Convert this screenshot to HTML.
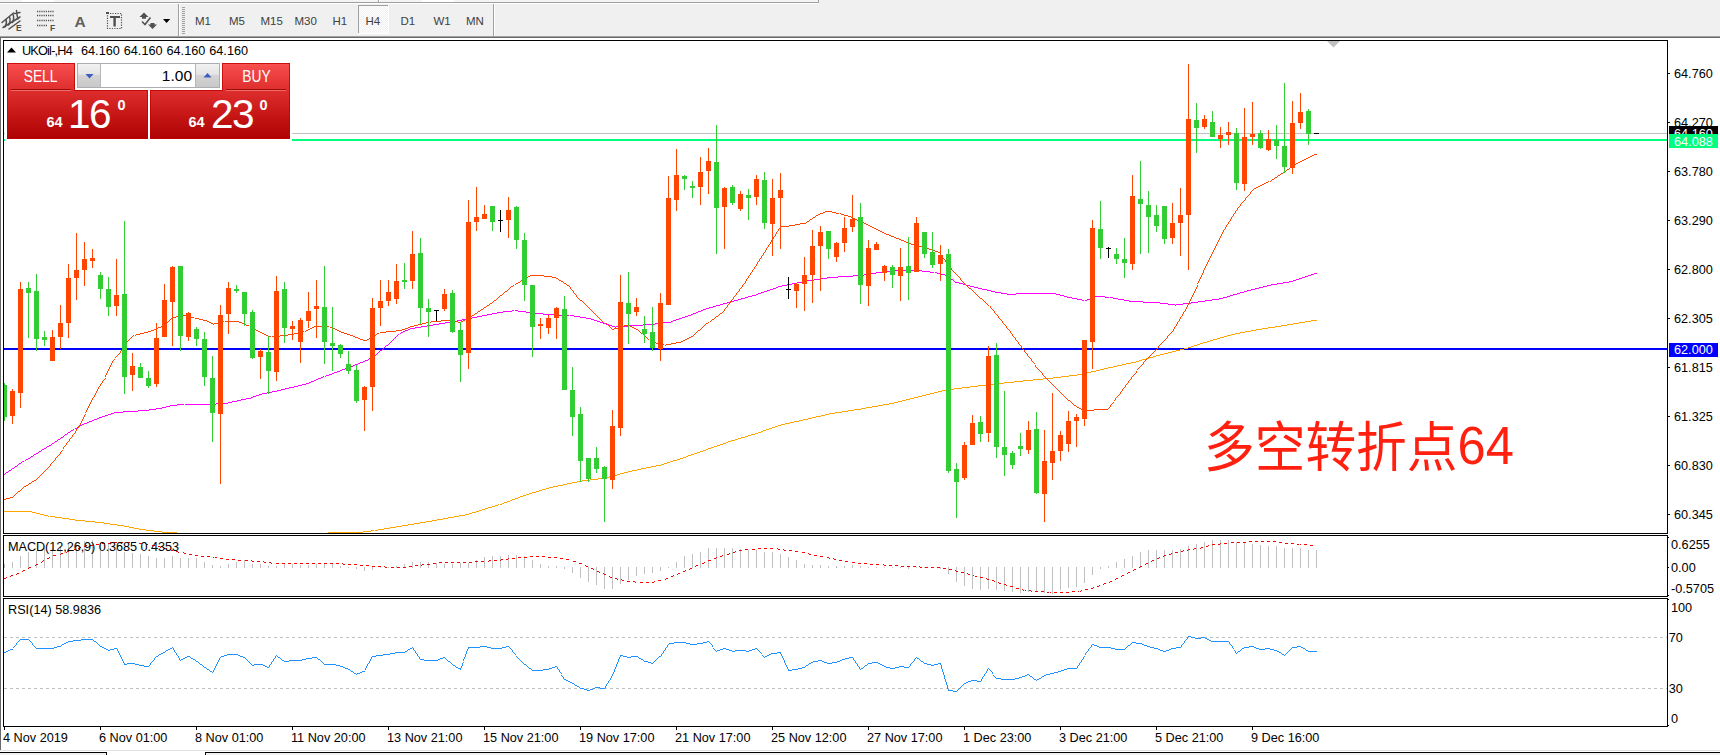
<!DOCTYPE html>
<html><head><meta charset="utf-8"><title>UKOil-,H4</title>
<style>
html,body{margin:0;padding:0;background:#fff;}
body{width:1720px;height:755px;position:relative;overflow:hidden;font-family:"Liberation Sans","Noto Sans CJK SC",sans-serif;color:#000;}
#tb{position:absolute;left:0;top:0;width:1720px;height:36px;background:#f0f0f0;}
.ax{position:absolute;font-size:12.7px;line-height:14px;white-space:nowrap;color:#000;}
.tf{position:absolute;top:14px;font-size:11.5px;line-height:14px;color:#404040;white-space:nowrap;}
svg{position:absolute;left:0;top:0;}
.abs{position:absolute;}
</style></head><body>
<div id="tb"></div>
<svg width="1720" height="755" viewBox="0 0 1720 755" shape-rendering="crispEdges">
<rect x="0" y="0" width="819" height="2" fill="#f4f4f4"/>
<rect x="22" y="0" width="32" height="2" fill="#fff"/>
<rect x="422" y="0" width="32" height="2" fill="#fff"/>
<rect x="0" y="2" width="819" height="1" fill="#a0a0a0"/>
<rect x="0" y="3" width="819" height="1" fill="#fff"/>
<rect x="818" y="0" width="1" height="3" fill="#a0a0a0"/>
<rect x="378" y="0" width="1" height="2" fill="#a0a0a0"/>
<rect x="379" y="0" width="1" height="2" fill="#fff"/>
<rect x="0" y="36" width="1720" height="1" fill="#a0a0a0"/>
<rect x="0" y="37" width="1720" height="1" fill="#696969"/>
<rect x="0" y="38" width="1" height="712" fill="#696969"/>
<rect x="0" y="750" width="1720" height="1" fill="#e3e3e3"/>
<rect x="0" y="752" width="107" height="1" fill="#000"/>
<rect x="0" y="753" width="106" height="2" fill="#f0f0f0"/>
<rect x="106" y="752" width="1" height="3" fill="#000"/>
<rect x="205" y="752" width="1515" height="1" fill="#000"/>
<rect x="205" y="752" width="1" height="3" fill="#000"/>
<rect x="206" y="753" width="1514" height="2" fill="#f0f0f0"/>
<rect x="178" y="4" width="1" height="32" fill="#a0a0a0"/><rect x="179" y="4" width="1" height="32" fill="#fff"/>
<rect x="493" y="4" width="1" height="32" fill="#a0a0a0"/><rect x="494" y="4" width="1" height="32" fill="#fff"/>
<rect x="182" y="7" width="3" height="1" fill="#a0a0a0"/>
<rect x="182" y="9" width="3" height="1" fill="#a0a0a0"/>
<rect x="182" y="11" width="3" height="1" fill="#a0a0a0"/>
<rect x="182" y="13" width="3" height="1" fill="#a0a0a0"/>
<rect x="182" y="15" width="3" height="1" fill="#a0a0a0"/>
<rect x="182" y="17" width="3" height="1" fill="#a0a0a0"/>
<rect x="182" y="19" width="3" height="1" fill="#a0a0a0"/>
<rect x="182" y="21" width="3" height="1" fill="#a0a0a0"/>
<rect x="182" y="23" width="3" height="1" fill="#a0a0a0"/>
<rect x="182" y="25" width="3" height="1" fill="#a0a0a0"/>
<rect x="182" y="27" width="3" height="1" fill="#a0a0a0"/>
<rect x="182" y="29" width="3" height="1" fill="#a0a0a0"/>
<rect x="182" y="31" width="3" height="1" fill="#a0a0a0"/>
<rect x="182" y="33" width="3" height="1" fill="#a0a0a0"/>
<defs><pattern id="chk" width="2" height="2" patternUnits="userSpaceOnUse"><rect width="2" height="2" fill="#f0f0f0"/><rect width="1" height="1" fill="#fff"/><rect x="1" y="1" width="1" height="1" fill="#fff"/></pattern></defs>
<rect x="358" y="5" width="31" height="29" fill="url(#chk)"/>
<rect x="358" y="5" width="31" height="1" fill="#a0a0a0"/><rect x="358" y="5" width="1" height="29" fill="#a0a0a0"/>
<rect x="358" y="33" width="31" height="1" fill="#fff"/><rect x="388" y="5" width="1" height="29" fill="#fff"/>
</svg>
<svg width="200" height="36" viewBox="0 0 200 36" style="position:absolute;left:0;top:0">
<g stroke="#505050" stroke-width="1.5" fill="none" stroke-linecap="round"><path d="M2 22.5 L13.5 13"/><path d="M3 27.5 L20 17"/><path d="M9 29 L20 21"/><path d="M6 19.5 q1.2 3.5 -1 7.5 M9.5 17 q1.5 3.5 -0.8 8 M13 14.5 q1.6 3.5 -0.5 8 M16.5 10.5 q0.2 4 1.5 8.5 M14.5 13.5 L20 12.5"/></g>
<text x="16" y="31" font-family="Liberation Sans,sans-serif" font-size="8.5" font-weight="bold" fill="#505050">E</text>
<line x1="37" y1="11.5" x2="54" y2="11.5" stroke="#505050" stroke-width="1.4" stroke-dasharray="1.2 1"/>
<line x1="37" y1="15.5" x2="54" y2="15.5" stroke="#505050" stroke-width="1.4" stroke-dasharray="1.2 1"/>
<line x1="37" y1="20.5" x2="54" y2="20.5" stroke="#505050" stroke-width="1.4" stroke-dasharray="1.2 1"/>
<line x1="37" y1="25.5" x2="48" y2="25.5" stroke="#505050" stroke-width="1.4" stroke-dasharray="1.2 1"/>
<text x="50" y="31" font-family="Liberation Sans,sans-serif" font-size="8.5" font-weight="bold" fill="#505050">F</text>
<text x="74.5" y="27" font-family="Liberation Sans,sans-serif" font-size="15.5" font-weight="bold" fill="#606060">A</text>
<rect x="107.5" y="13.5" width="14" height="15" fill="none" stroke="#505050" stroke-width="1.2" stroke-dasharray="1.2 1.3"/>
<rect x="110" y="16" width="10" height="2" fill="#505050"/><rect x="113.4" y="16" width="2.4" height="10.5" fill="#505050"/>
<rect x="106" y="12" width="3" height="2" fill="#505050"/>
<polygon points="144,12.5 148.5,17 146,17 146,18.8 142,18.8 142,17 139.5,17" fill="#505050"/>
<polygon points="152.5,29 157,24.5 154.5,24.5 154.5,23 150.5,23 150.5,24.5 148,24.5" fill="#505050"/>
<path d="M142 21.5 L145 24.5 L150.5 17.5" stroke="#505050" stroke-width="1.5" fill="none"/>
<polygon points="163,19 170.2,19 166.6,23" fill="#000"/>
</svg>
<div class="tf" style="left:195px">M1</div>
<div class="tf" style="left:229px">M5</div>
<div class="tf" style="left:260.5px">M15</div>
<div class="tf" style="left:294.5px">M30</div>
<div class="tf" style="left:332.5px">H1</div>
<div class="tf" style="left:365.5px">H4</div>
<div class="tf" style="left:400.5px">D1</div>
<div class="tf" style="left:433.5px">W1</div>
<div class="tf" style="left:466px">MN</div>
<svg width="1720" height="755" viewBox="0 0 1720 755">
<defs><clipPath id="cm"><rect x="4" y="41" width="1663" height="492"/></clipPath><clipPath id="cd"><rect x="4" y="536" width="1663" height="60"/></clipPath><clipPath id="cr"><rect x="4" y="599" width="1663" height="127"/></clipPath><linearGradient id="pg" x1="0" y1="0" x2="0" y2="1"><stop offset="0" stop-color="#f84c4c"/><stop offset="0.35" stop-color="#de2c2c"/><stop offset="1" stop-color="#b00404"/></linearGradient></defs>
<g shape-rendering="crispEdges">
<rect x="3" y="40" width="1665" height="1" fill="#000"/>
<rect x="3" y="533" width="1665" height="1" fill="#000"/>
<rect x="3" y="40" width="1" height="494" fill="#000"/>
<rect x="1667" y="40" width="1" height="494" fill="#000"/>
<rect x="3" y="535" width="1665" height="1" fill="#000"/>
<rect x="3" y="596" width="1665" height="1" fill="#000"/>
<rect x="3" y="535" width="1" height="62" fill="#000"/>
<rect x="1667" y="535" width="1" height="62" fill="#000"/>
<rect x="3" y="598" width="1665" height="1" fill="#000"/>
<rect x="3" y="726" width="1665" height="1" fill="#000"/>
<rect x="3" y="598" width="1" height="129" fill="#000"/>
<rect x="1667" y="598" width="1" height="129" fill="#000"/>
<rect x="1668" y="73" width="2" height="1" fill="#000"/>
<rect x="1668" y="122" width="2" height="1" fill="#000"/>
<rect x="1668" y="171" width="2" height="1" fill="#000"/>
<rect x="1668" y="220" width="2" height="1" fill="#000"/>
<rect x="1668" y="269" width="2" height="1" fill="#000"/>
<rect x="1668" y="318" width="2" height="1" fill="#000"/>
<rect x="1668" y="367" width="2" height="1" fill="#000"/>
<rect x="1668" y="416" width="2" height="1" fill="#000"/>
<rect x="1668" y="465" width="2" height="1" fill="#000"/>
<rect x="1668" y="514" width="2" height="1" fill="#000"/>
<rect x="1668" y="537" width="1" height="1" fill="#000"/>
<rect x="1668" y="567" width="1" height="1" fill="#000"/>
<rect x="1668" y="595" width="1" height="1" fill="#000"/>
<rect x="1668" y="599" width="1" height="1" fill="#000"/>
<rect x="1668" y="725" width="1" height="1" fill="#000"/>
<rect x="4" y="727" width="1" height="3" fill="#000"/>
<rect x="100" y="727" width="1" height="3" fill="#000"/>
<rect x="196" y="727" width="1" height="3" fill="#000"/>
<rect x="292" y="727" width="1" height="3" fill="#000"/>
<rect x="388" y="727" width="1" height="3" fill="#000"/>
<rect x="484" y="727" width="1" height="3" fill="#000"/>
<rect x="580" y="727" width="1" height="3" fill="#000"/>
<rect x="676" y="727" width="1" height="3" fill="#000"/>
<rect x="772" y="727" width="1" height="3" fill="#000"/>
<rect x="868" y="727" width="1" height="3" fill="#000"/>
<rect x="964" y="727" width="1" height="3" fill="#000"/>
<rect x="1060" y="727" width="1" height="3" fill="#000"/>
<rect x="1156" y="727" width="1" height="3" fill="#000"/>
<rect x="1252" y="727" width="1" height="3" fill="#000"/>
<g clip-path="url(#cm)">
<rect x="4" y="133" width="1663" height="1" fill="#c0c0c0"/>
<rect x="4" y="139" width="1663" height="2" fill="#00ff7f"/>
<rect x="4" y="348" width="1663" height="2" fill="#0000ff"/>
</g>
<polygon points="1327,41 1340,41 1333.5,47.5" fill="#c0c0c0" shape-rendering="auto"/>
</g>
<g clip-path="url(#cm)" shape-rendering="crispEdges">
<path d="M632 470h5v1h-5zM188 534h10v1h-10zM306 534h11v1h-11zM1311 320h6v1h-6zM229 538h10v1h-10zM262 538h11v1h-11zM995 383h9v1h-9zM1176 350h4v1h-4zM104 523h6v1h-6zM414 523h6v1h-6zM488 507h4v1h-4zM239 539h10v1h-10zM251 539h11v1h-11zM918 396h4v1h-4zM162 532h15v1h-15zM328 532h35v1h-35zM620 473h4v1h-4zM842 411h6v1h-6zM546 488h3v1h-3zM198 535h10v1h-10zM295 535h11v1h-11zM646 467h5v1h-5zM1299 322h6v1h-6zM878 405h5v1h-5zM711 447h3v1h-3zM1164 353h4v1h-4zM479 510h3v1h-3zM177 533h11v1h-11zM317 533h11v1h-11zM609 476h4v1h-4zM117 525h7v1h-7zM402 525h6v1h-6zM208 536h11v1h-11zM284 536h11v1h-11zM32 512h4v1h-4zM472 512h4v1h-4zM146 530h8v1h-8zM371 530h3v1h-3zM375 530h3v1h-3zM1014 381h9v1h-9zM536 491h3v1h-3zM69 519h6v1h-6zM437 519h6v1h-6zM906 399h4v1h-4zM1153 356h3v1h-3zM700 451h3v1h-3zM590 479h8v1h-8zM85 521h10v1h-10zM426 521h6v1h-6zM4 511h28v1h-28zM476 511h3v1h-3zM1117 365h5v1h-5zM962 387h8v1h-8zM861 408h5v1h-5zM758 432h3v1h-3zM661 464h3v1h-3zM894 402h4v1h-4zM1142 359h4v1h-4zM219 537h10v1h-10zM273 537h11v1h-11zM1077 374h6v1h-6zM50 516h5v1h-5zM454 516h5v1h-5zM520 496h3v1h-3zM1069 375h8v1h-8zM745 436h3v1h-3zM154 531h8v1h-8zM363 531h8v1h-8zM1023 380h10v1h-10zM1262 328h6v1h-6zM703 450h3v1h-3zM735 439h3v1h-3zM36 513h4v1h-4zM469 513h3v1h-3zM970 386h8v1h-8zM1083 373h4v1h-4zM139 529h7v1h-7zM378 529h6v1h-6zM1245 331h6v1h-6zM825 414h4v1h-4zM75 520h10v1h-10zM432 520h5v1h-5zM691 454h3v1h-3zM1210 340h3v1h-3zM1275 326h6v1h-6zM748 435h3v1h-3zM986 384h9v1h-9zM1200 343h3v1h-3zM680 458h3v1h-3zM803 419h5v1h-5zM95 522h9v1h-9zM420 522h6v1h-6zM829 413h6v1h-6zM1188 347h3v1h-3zM1043 378h10v1h-10zM726 442h2v1h-2zM134 528h5v1h-5zM384 528h6v1h-6zM790 422h4v1h-4zM816 416h5v1h-5zM720 444h3v1h-3zM848 410h6v1h-6zM778 425h3v1h-3zM683 457h3v1h-3zM577 481h5v1h-5zM110 524h7v1h-7zM408 524h6v1h-6zM677 459h3v1h-3zM572 482h5v1h-5zM641 468h5v1h-5zM766 429h3v1h-3zM1191 346h3v1h-3zM1053 377h8v1h-8zM502 503h2v1h-2zM667 462h3v1h-3zM866 407h6v1h-6zM529 493h3v1h-3zM1004 382h10v1h-10zM723 443h3v1h-3zM628 471h4v1h-4zM854 409h7v1h-7zM926 394h4v1h-4zM485 508h3v1h-3zM954 388h8v1h-8zM542 489h4v1h-4zM55 517h7v1h-7zM448 517h6v1h-6zM914 397h4v1h-4zM769 428h3v1h-3zM532 492h4v1h-4zM902 400h4v1h-4zM44 515h4v1h-4zM459 515h6v1h-6zM598 478h8v1h-8zM656 465h5v1h-5zM889 403h5v1h-5zM1240 332h5v1h-5zM1104 368h4v1h-4zM741 437h4v1h-4zM62 518h7v1h-7zM443 518h5v1h-5zM510 500h2v1h-2zM1091 371h5v1h-5zM1131 362h5v1h-5zM606 477h3v1h-3zM978 385h8v1h-8zM731 440h4v1h-4zM40 514h4v1h-4zM465 514h4v1h-4zM755 433h3v1h-3zM1281 325h6v1h-6zM124 526h5v1h-5zM396 526h6v1h-6zM1033 379h10v1h-10zM512 499h3v1h-3zM835 412h7v1h-7zM1287 324h6v1h-6zM495 505h3v1h-3zM553 486h5v1h-5zM938 391h4v1h-4zM763 430h3v1h-3zM567 483h5v1h-5zM1180 349h4v1h-4zM617 474h3v1h-3zM1061 376h8v1h-8zM697 452h3v1h-3zM1139 360h3v1h-3zM1235 333h5v1h-5zM1126 363h5v1h-5zM1256 329h6v1h-6zM1224 336h3v1h-3zM1213 339h4v1h-4zM688 455h3v1h-3zM1268 327h7v1h-7zM812 417h4v1h-4zM507 501h3v1h-3zM1293 323h6v1h-6zM799 420h4v1h-4zM1184 348h4v1h-4zM129 527h5v1h-5zM390 527h6v1h-6zM785 423h5v1h-5zM500 504h2v1h-2zM1172 351h4v1h-4zM775 426h3v1h-3zM708 448h3v1h-3zM563 484h4v1h-4zM934 392h4v1h-4zM1149 357h4v1h-4zM664 463h3v1h-3zM651 466h5v1h-5zM1100 369h4v1h-4zM613 475h4v1h-4zM1087 372h4v1h-4zM1217 338h3v1h-3zM1113 366h4v1h-4zM930 393h4v1h-4zM518 497h2v1h-2zM1207 341h3v1h-3zM1231 334h4v1h-4zM728 441h3v1h-3zM686 456h2v1h-2zM1197 344h3v1h-3zM504 502h3v1h-3zM549 487h4v1h-4zM922 395h4v1h-4zM539 490h3v1h-3zM910 398h4v1h-4zM946 389h8v1h-8zM637 469h4v1h-4zM761 431h2v1h-2zM624 472h4v1h-4zM883 404h6v1h-6zM694 453h3v1h-3zM751 434h4v1h-4zM1220 337h4v1h-4zM821 415h4v1h-4zM781 424h4v1h-4zM808 418h4v1h-4zM673 460h4v1h-4zM582 480h8v1h-8zM1305 321h6v1h-6zM482 509h3v1h-3zM772 427h3v1h-3zM872 406h6v1h-6zM1146 358h3v1h-3zM523 495h3v1h-3zM1108 367h5v1h-5zM717 445h3v1h-3zM1136 361h3v1h-3zM1096 370h4v1h-4zM1160 354h4v1h-4zM1122 364h4v1h-4zM1251 330h5v1h-5zM515 498h3v1h-3zM558 485h5v1h-5zM942 390h4v1h-4zM1194 345h3v1h-3zM794 421h5v1h-5zM670 461h3v1h-3zM706 449h2v1h-2zM492 506h3v1h-3zM1227 335h4v1h-4zM898 401h4v1h-4zM526 494h3v1h-3zM1203 342h4v1h-4zM738 438h3v1h-3zM1168 352h4v1h-4zM714 446h3v1h-3zM1156 355h4v1h-4zM250 540h1v1h-1zM48 516h1v1h-1zM498 504h1v1h-1z" fill="#ffa500"/>
<path d="M427 325h6v1h-6zM609 325h3v1h-3zM628 325h15v1h-15zM177 404h7v1h-7zM185 404h31v1h-31zM864 274h6v1h-6zM941 274h4v1h-4zM1311 274h3v1h-3zM778 286h4v1h-4zM970 286h4v1h-4zM1263 286h4v1h-4zM761 292h3v1h-3zM995 292h6v1h-6zM1240 292h4v1h-4zM492 313h5v1h-5zM535 313h8v1h-8zM693 313h3v1h-3zM232 401h5v1h-5zM827 277h11v1h-11zM948 277h2v1h-2zM1302 277h3v1h-3zM408 329h2v1h-2zM82 424h2v1h-2zM758 293h3v1h-3zM1001 293h6v1h-6zM1016 293h40v1h-40zM1237 293h3v1h-3zM439 323h6v1h-6zM603 323h3v1h-3zM655 323h8v1h-8zM403 331h2v1h-2zM421 326h6v1h-6zM612 326h3v1h-3zM616 326h12v1h-12zM138 410h11v1h-11zM727 302h4v1h-4zM1143 302h17v1h-17zM1191 302h7v1h-7zM802 281h5v1h-5zM1289 281h4v1h-4zM731 301h3v1h-3zM1129 301h14v1h-14zM1198 301h7v1h-7zM770 289h3v1h-3zM982 289h5v1h-5zM1251 289h4v1h-4zM884 271h9v1h-9zM922 271h8v1h-8zM467 318h5v1h-5zM586 318h5v1h-5zM679 318h3v1h-3zM720 304h3v1h-3zM1168 304h7v1h-7zM1176 304h7v1h-7zM462 319h5v1h-5zM591 319h3v1h-3zM676 319h3v1h-3zM65 434h2v1h-2zM838 276h15v1h-15zM1305 276h3v1h-3zM457 320h5v1h-5zM594 320h3v1h-3zM673 320h3v1h-3zM162 407h4v1h-4zM792 283h5v1h-5zM959 283h4v1h-4zM1277 283h6v1h-6zM748 296h4v1h-4zM1064 296h3v1h-3zM1095 296h10v1h-10zM1227 296h3v1h-3zM114 412h9v1h-9zM445 322h6v1h-6zM600 322h3v1h-3zM663 322h8v1h-8zM477 316h5v1h-5zM574 316h6v1h-6zM685 316h3v1h-3zM787 284h5v1h-5zM963 284h3v1h-3zM1271 284h6v1h-6zM482 315h5v1h-5zM558 315h11v1h-11zM570 315h4v1h-4zM688 315h3v1h-3zM752 295h4v1h-4zM1060 295h4v1h-4zM1230 295h3v1h-3zM472 317h5v1h-5zM580 317h6v1h-6zM682 317h3v1h-3zM893 270h29v1h-29zM285 388h4v1h-4zM348 367h3v1h-3zM741 298h4v1h-4zM1072 298h5v1h-5zM1090 298h3v1h-3zM1113 298h5v1h-5zM1219 298h4v1h-4zM123 411h15v1h-15zM745 297h3v1h-3zM1067 297h5v1h-5zM1093 297h2v1h-2zM1105 297h4v1h-4zM1110 297h3v1h-3zM1223 297h4v1h-4zM6 472h2v1h-2zM782 285h5v1h-5zM966 285h4v1h-4zM1267 285h4v1h-4zM503 311h9v1h-9zM518 311h8v1h-8zM698 311h3v1h-3zM31 456h2v1h-2zM415 327h6v1h-6zM433 324h6v1h-6zM606 324h3v1h-3zM643 324h12v1h-12zM487 314h5v1h-5zM543 314h15v1h-15zM691 314h2v1h-2zM756 294h2v1h-2zM1007 294h9v1h-9zM1056 294h4v1h-4zM1233 294h4v1h-4zM256 395h3v1h-3zM713 306h3v1h-3zM216 403h12v1h-12zM281 389h4v1h-4zM764 291h3v1h-3zM991 291h4v1h-4zM1244 291h3v1h-3zM94 419h3v1h-3zM738 299h3v1h-3zM1077 299h5v1h-5zM1087 299h3v1h-3zM1118 299h6v1h-6zM1212 299h7v1h-7zM703 309h3v1h-3zM365 360h3v1h-3zM15 466h2v1h-2zM267 392h5v1h-5zM334 372h3v1h-3zM797 282h5v1h-5zM955 282h4v1h-4zM1283 282h6v1h-6zM410 328h5v1h-5zM821 278h6v1h-6zM1299 278h3v1h-3zM289 387h5v1h-5zM773 288h3v1h-3zM978 288h4v1h-4zM1255 288h4v1h-4zM241 399h5v1h-5zM876 272h8v1h-8zM930 272h4v1h-4zM935 272h2v1h-2zM870 273h6v1h-6zM937 273h4v1h-4zM1314 273h3v1h-3zM156 408h6v1h-6zM358 363h2v1h-2zM326 375h3v1h-3zM723 303h4v1h-4zM1160 303h8v1h-8zM1183 303h8v1h-8zM170 405h7v1h-7zM316 379h2v1h-2zM342 369h3v1h-3zM311 381h3v1h-3zM767 290h3v1h-3zM987 290h4v1h-4zM1247 290h4v1h-4zM451 321h6v1h-6zM597 321h3v1h-3zM671 321h2v1h-2zM262 393h5v1h-5zM105 415h3v1h-3zM345 368h3v1h-3zM314 380h2v1h-2zM71 430h2v1h-2zM277 390h4v1h-4zM302 384h4v1h-4zM853 275h11v1h-11zM945 275h2v1h-2zM1308 275h3v1h-3zM253 396h3v1h-3zM807 280h7v1h-7zM1293 280h3v1h-3zM92 420h2v1h-2zM363 361h2v1h-2zM228 402h4v1h-4zM55 441h2v1h-2zM111 413h3v1h-3zM405 330h3v1h-3zM80 425h2v1h-2zM776 287h2v1h-2zM974 287h4v1h-4zM1259 287h4v1h-4zM401 332h2v1h-2zM22 461h2v1h-2zM39 451h2v1h-2zM102 416h3v1h-3zM497 312h6v1h-6zM526 312h9v1h-9zM696 312h2v1h-2zM716 305h4v1h-4zM709 307h4v1h-4zM246 398h5v1h-5zM332 373h2v1h-2zM89 421h3v1h-3zM12 468h2v1h-2zM58 439h2v1h-2zM814 279h7v1h-7zM951 279h2v1h-2zM1296 279h3v1h-3zM321 377h2v1h-2zM149 409h7v1h-7zM355 364h3v1h-3zM351 366h2v1h-2zM370 357h2v1h-2zM166 406h4v1h-4zM36 453h2v1h-2zM61 437h2v1h-2zM298 385h4v1h-4zM734 300h4v1h-4zM1082 300h2v1h-2zM1085 300h2v1h-2zM1124 300h5v1h-5zM1205 300h7v1h-7zM272 391h5v1h-5zM512 310h2v1h-2zM515 310h3v1h-3zM701 310h2v1h-2zM380 350h2v1h-2zM99 417h3v1h-3zM47 446h2v1h-2zM237 400h4v1h-4zM318 378h3v1h-3zM108 414h3v1h-3zM19 463h2v1h-2zM251 397h2v1h-2zM44 448h2v1h-2zM68 432h2v1h-2zM360 362h3v1h-3zM329 374h3v1h-3zM28 458h2v1h-2zM78 426h2v1h-2zM353 365h2v1h-2zM337 371h3v1h-3zM306 383h3v1h-3zM34 454h2v1h-2zM294 386h4v1h-4zM340 370h2v1h-2zM87 422h2v1h-2zM386 345h2v1h-2zM9 470h2v1h-2zM75 428h2v1h-2zM97 418h2v1h-2zM309 382h2v1h-2zM259 394h3v1h-3zM26 459h2v1h-2zM52 443h2v1h-2zM42 449h2v1h-2zM84 423h3v1h-3zM49 445h2v1h-2zM706 308h3v1h-3zM375 355h1v1h-1zM64 435h1v1h-1zM947 276h1v1h-1zM11 469h1v1h-1zM372 356h1v1h-1zM615 327h1v1h-1zM392 340h1v1h-1zM393 339h1v1h-1zM954 281h1v1h-1zM14 467h1v1h-1zM30 457h1v1h-1zM46 447h1v1h-1zM391 341h1v1h-1zM63 436h1v1h-1zM5 473h1v1h-1zM38 452h1v1h-1zM54 442h1v1h-1zM67 433h1v1h-1zM398 334h1v1h-1zM385 346h1v1h-1zM390 342h1v1h-1zM18 464h1v1h-1zM379 351h1v1h-1zM384 347h1v1h-1zM41 450h1v1h-1zM57 440h1v1h-1zM389 343h1v1h-1zM323 376h1v1h-1zM4 474h1v1h-1zM378 352h1v1h-1zM397 335h1v1h-1zM77 427h1v1h-1zM33 455h1v1h-1zM377 353h1v1h-1zM396 336h1v1h-1zM382 349h1v1h-1zM17 465h1v1h-1zM8 471h1v1h-1zM25 460h1v1h-1zM383 348h1v1h-1zM70 431h1v1h-1zM369 358h1v1h-1zM388 344h1v1h-1zM373 355h1v1h-1zM395 337h1v1h-1zM325 376h1v1h-1zM953 280h1v1h-1zM60 438h1v1h-1zM21 462h1v1h-1zM1175 305h1v1h-1zM394 338h1v1h-1zM368 359h1v1h-1zM51 444h1v1h-1zM400 333h1v1h-1zM950 278h1v1h-1zM376 354h1v1h-1zM73 429h1v1h-1z" fill="#ff00ff"/>
<path d="M481 309h2v1h-2zM179 315h7v1h-7zM472 315h2v1h-2zM810 219h2v1h-2zM855 219h2v1h-2zM516 283h2v1h-2zM564 283h2v1h-2zM938 252h2v1h-2zM929 249h3v1h-3zM266 335h2v1h-2zM280 335h8v1h-8zM350 335h3v1h-3zM176 316h3v1h-3zM186 316h4v1h-4zM716 316h2v1h-2zM358 338h2v1h-2zM369 338h2v1h-2zM687 338h2v1h-2zM906 242h3v1h-3zM268 336h3v1h-3zM272 336h8v1h-8zM353 336h2v1h-2zM373 336h2v1h-2zM691 336h2v1h-2zM140 333h4v1h-4zM262 333h2v1h-2zM294 333h4v1h-4zM344 333h3v1h-3zM377 333h2v1h-2zM641 333h2v1h-2zM528 276h2v1h-2zM544 276h8v1h-8zM173 317h3v1h-3zM190 317h4v1h-4zM469 317h2v1h-2zM246 325h3v1h-3zM414 325h4v1h-4zM624 325h6v1h-6zM1281 173h2v1h-2zM530 275h14v1h-14zM166 322h2v1h-2zM209 322h2v1h-2zM218 322h4v1h-4zM239 322h3v1h-3zM426 322h3v1h-3zM458 322h3v1h-3zM1278 175h2v1h-2zM156 328h2v1h-2zM253 328h2v1h-2zM310 328h2v1h-2zM333 328h2v1h-2zM405 328h3v1h-3zM614 328h4v1h-4zM634 328h2v1h-2zM872 227h2v1h-2zM151 330h3v1h-3zM256 330h2v1h-2zM306 330h2v1h-2zM337 330h2v1h-2zM396 330h6v1h-6zM698 330h2v1h-2zM523 279h2v1h-2zM567 285h2v1h-2zM800 223h6v1h-6zM864 223h2v1h-2zM494 300h2v1h-2zM580 300h2v1h-2zM1081 409h2v1h-2zM1094 409h14v1h-14zM18 491h2v1h-2zM825 211h7v1h-7zM561 281h2v1h-2zM901 240h3v1h-3zM1266 182h2v1h-2zM820 213h3v1h-3zM836 213h3v1h-3zM161 326h2v1h-2zM250 326h2v1h-2zM314 326h15v1h-15zM410 326h4v1h-4zM621 326h3v1h-3zM630 326h2v1h-2zM1262 184h2v1h-2zM148 331h3v1h-3zM258 331h2v1h-2zM302 331h2v1h-2zM339 331h2v1h-2zM386 331h10v1h-10zM500 295h2v1h-2zM144 332h4v1h-4zM260 332h2v1h-2zM298 332h4v1h-4zM341 332h3v1h-3zM380 332h6v1h-6zM652 341h2v1h-2zM681 341h2v1h-2zM781 226h8v1h-8zM870 226h2v1h-2zM654 342h2v1h-2zM676 342h5v1h-5zM136 334h4v1h-4zM264 334h2v1h-2zM288 334h6v1h-6zM347 334h3v1h-3zM818 214h2v1h-2zM841 214h3v1h-3zM1304 159h2v1h-2zM925 248h4v1h-4zM816 215h2v1h-2zM844 215h4v1h-4zM26 485h2v1h-2zM475 313h2v1h-2zM720 313h2v1h-2zM556 278h2v1h-2zM795 224h5v1h-5zM866 224h2v1h-2zM158 327h3v1h-3zM312 327h2v1h-2zM330 327h3v1h-3zM408 327h2v1h-2zM618 327h3v1h-3zM632 327h2v1h-2zM478 311h2v1h-2zM894 237h2v1h-2zM487 305h2v1h-2zM360 339h3v1h-3zM367 339h2v1h-2zM685 339h2v1h-2zM896 238h3v1h-3zM886 234h3v1h-3zM34 480h2v1h-2zM807 221h2v1h-2zM860 221h2v1h-2zM1254 188h2v1h-2zM490 303h2v1h-2zM505 291h2v1h-2zM207 321h2v1h-2zM222 321h2v1h-2zM225 321h14v1h-14zM431 321h10v1h-10zM454 321h4v1h-4zM461 321h2v1h-2zM1272 179h2v1h-2zM171 318h2v1h-2zM195 318h4v1h-4zM467 318h2v1h-2zM1085 410h9v1h-9zM6 498h4v1h-4zM848 216h3v1h-3zM935 251h3v1h-3zM969 288h2v1h-2zM211 323h2v1h-2zM214 323h4v1h-4zM242 323h2v1h-2zM422 323h4v1h-4zM605 323h2v1h-2zM706 323h2v1h-2zM203 320h4v1h-4zM441 320h13v1h-13zM463 320h2v1h-2zM363 340h4v1h-4zM650 340h2v1h-2zM683 340h2v1h-2zM526 277h2v1h-2zM552 277h4v1h-4zM154 329h2v1h-2zM308 329h2v1h-2zM335 329h2v1h-2zM402 329h3v1h-3zM612 329h2v1h-2zM636 329h2v1h-2zM922 247h3v1h-3zM244 324h2v1h-2zM418 324h4v1h-4zM884 233h2v1h-2zM789 225h6v1h-6zM868 225h2v1h-2zM876 229h2v1h-2zM1258 186h2v1h-2zM355 337h3v1h-3zM371 337h2v1h-2zM689 337h2v1h-2zM874 228h2v1h-2zM891 236h3v1h-3zM199 319h4v1h-4zM465 319h2v1h-2zM712 319h2v1h-2zM889 235h2v1h-2zM656 343h3v1h-3zM671 343h5v1h-5zM823 212h2v1h-2zM832 212h4v1h-4zM659 344h5v1h-5zM666 344h5v1h-5zM918 246h4v1h-4zM911 244h4v1h-4zM32 481h2v1h-2zM932 250h3v1h-3zM10 497h3v1h-3zM853 218h2v1h-2zM1294 164h2v1h-2zM521 280h2v1h-2zM559 280h2v1h-2zM1314 154h3v1h-3zM1077 407h2v1h-2zM882 232h2v1h-2zM1079 408h2v1h-2zM1068 400h2v1h-2zM1074 405h2v1h-2zM1306 158h2v1h-2zM1302 160h2v1h-2zM862 222h2v1h-2zM915 245h3v1h-3zM511 286h2v1h-2zM904 241h2v1h-2zM909 243h2v1h-2zM1296 163h2v1h-2zM980 298h2v1h-2zM1260 185h2v1h-2zM24 486h2v1h-2zM518 282h2v1h-2zM878 230h2v1h-2zM1287 169h2v1h-2zM880 231h2v1h-2zM484 307h2v1h-2zM813 217h2v1h-2zM851 217h2v1h-2zM899 239h2v1h-2zM1312 155h2v1h-2zM857 220h2v1h-2zM1256 187h2v1h-2zM1275 177h2v1h-2zM1308 157h2v1h-2zM29 483h2v1h-2zM1300 161h2v1h-2zM1264 183h2v1h-2zM1283 172h2v1h-2zM4 499h2v1h-2zM1291 166h2v1h-2zM1310 156h2v1h-2zM1298 162h2v1h-2zM1185 309h1v2h-1zM1057 389h1v1h-1zM1197 283h1v1h-1zM1197 285h1v2h-1zM602 321h1v1h-1zM764 252h1v1h-1zM1009 330h1v1h-1zM1212 252h1v2h-1zM1136 371h1v2h-1zM1156 349h1v1h-1zM584 303h1v1h-1zM1121 391h1v1h-1zM87 408h1v2h-1zM1268 181h1v1h-1zM644 335h1v1h-1zM1225 227h1v2h-1zM1063 395h1v1h-1zM576 295h1v2h-1zM991 308h1v1h-1zM78 426h1v2h-1zM1240 204h1v2h-1zM1064 396h1v1h-1zM768 245h1v2h-1zM724 309h1v2h-1zM748 276h1v2h-1zM997 315h1v1h-1zM1208 260h1v2h-1zM1144 361h1v1h-1zM63 447h1v2h-1zM998 316h1v2h-1zM982 299h1v1h-1zM696 332h1v1h-1zM806 222h1v1h-1zM1221 234h1v2h-1zM971 289h1v1h-1zM583 302h1v1h-1zM39 476h1v1h-1zM775 234h1v2h-1zM165 323h1v1h-1zM489 304h1v1h-1zM20 490h1v1h-1zM972 290h1v1h-1zM1034 363h1v1h-1zM1012 334h1v2h-1zM504 292h1v1h-1zM732 299h1v1h-1zM493 301h1v1h-1zM122 348h1v2h-1zM693 335h1v1h-1zM59 454h1v1h-1zM82 419h1v2h-1zM1045 377h1v1h-1zM71 437h1v1h-1zM103 380h1v1h-1zM739 289h1v2h-1zM978 296h1v1h-1zM1124 387h1v1h-1zM569 286h1v1h-1zM990 306h1v2h-1zM771 240h1v2h-1zM1109 407h1v1h-1zM751 272h1v1h-1zM95 393h1v2h-1zM1203 270h1v3h-1zM1236 210h1v1h-1zM979 297h1v1h-1zM54 460h1v1h-1zM942 256h1v2h-1zM591 310h1v1h-1zM1023 349h1v1h-1zM66 443h1v2h-1zM51 463h1v1h-1zM1274 178h1v1h-1zM1033 362h1v1h-1zM1151 354h1v1h-1zM1286 170h1v1h-1zM953 271h1v1h-1zM1171 332h1v1h-1zM700 329h1v1h-1zM1216 244h1v2h-1zM780 227h1v1h-1zM91 400h1v2h-1zM1195 289h1v2h-1zM1037 368h1v1h-1zM715 317h1v1h-1zM252 327h1v1h-1zM1244 200h1v1h-1zM130 338h1v1h-1zM169 320h1v1h-1zM1120 392h1v2h-1zM598 317h1v1h-1zM1290 167h1v1h-1zM118 354h1v1h-1zM62 450h1v1h-1zM960 278h1v2h-1zM643 334h1v1h-1zM508 289h1v1h-1zM719 314h1v1h-1zM1070 401h1v1h-1zM74 433h1v1h-1zM1148 357h1v1h-1zM1127 383h1v1h-1zM1207 262h1v2h-1zM1044 376h1v1h-1zM1239 206h1v1h-1zM1112 403h1v1h-1zM125 344h1v1h-1zM1022 348h1v1h-1zM767 247h1v1h-1zM1143 362h1v2h-1zM1163 341h1v1h-1zM727 305h1v2h-1zM81 421h1v2h-1zM967 286h1v1h-1zM579 299h1v1h-1zM1223 230h1v2h-1zM774 236h1v1h-1zM1051 383h1v1h-1zM952 270h1v1h-1zM1000 319h1v1h-1zM763 253h1v2h-1zM1135 373h1v1h-1zM1247 196h1v1h-1zM1250 192h1v2h-1zM86 410h1v2h-1zM1052 384h1v1h-1zM1174 327h1v2h-1zM597 316h1v1h-1zM639 331h1v1h-1zM608 325h1v1h-1zM735 295h1v1h-1zM46 469h1v1h-1zM102 381h1v2h-1zM738 291h1v1h-1zM609 326h1v1h-1zM747 278h1v1h-1zM770 242h1v2h-1zM750 273h1v2h-1zM1058 390h1v1h-1zM959 277h1v1h-1zM1155 350h1v1h-1zM704 325h1v1h-1zM1011 333h1v1h-1zM840 213h1v1h-1zM1059 391h1v1h-1zM85 412h1v1h-1zM85 414h1v1h-1zM1146 359h1v1h-1zM1115 398h1v2h-1zM113 360h1v1h-1zM941 255h1v1h-1zM376 334h1v1h-1zM1194 291h1v2h-1zM754 267h1v2h-1zM1025 352h1v1h-1zM22 488h1v1h-1zM1036 367h1v1h-1zM1026 353h1v1h-1zM1066 398h1v1h-1zM15 494h1v1h-1zM1211 254h1v2h-1zM499 296h1v1h-1zM1226 225h1v2h-1zM109 367h1v2h-1zM1190 299h1v2h-1zM1235 211h1v2h-1zM121 350h1v1h-1zM1202 273h1v2h-1zM1158 346h1v2h-1zM985 302h1v1h-1zM65 445h1v1h-1zM68 441h1v1h-1zM723 311h1v1h-1zM77 428h1v1h-1zM974 292h1v1h-1zM80 423h1v2h-1zM586 305h1v1h-1zM570 287h1v2h-1zM1015 338h1v2h-1zM1222 232h1v2h-1zM940 253h1v2h-1zM108 369h1v2h-1zM571 289h1v1h-1zM1181 316h1v1h-1zM132 336h1v1h-1zM695 333h1v1h-1zM992 309h1v1h-1zM41 474h1v1h-1zM951 268h1v2h-1zM1065 397h1v1h-1zM1170 333h1v1h-1zM757 262h1v2h-1zM1206 264h1v2h-1zM124 345h1v2h-1zM766 248h1v2h-1zM1138 368h1v1h-1zM746 279h1v2h-1zM1003 323h1v1h-1zM1177 322h1v2h-1zM105 375h1v2h-1zM105 378h1v1h-1zM726 307h1v1h-1zM729 303h1v1h-1zM1123 388h1v1h-1zM1010 331h1v2h-1zM973 291h1v1h-1zM585 304h1v1h-1zM1193 293h1v2h-1zM1013 336h1v1h-1zM1238 207h1v1h-1zM753 269h1v1h-1zM100 384h1v2h-1zM1217 242h1v2h-1zM645 336h1v1h-1zM962 281h1v1h-1zM53 461h1v1h-1zM56 457h1v1h-1zM1014 337h1v1h-1zM92 398h1v2h-1zM1153 352h1v1h-1zM1046 378h1v1h-1zM1173 329h1v2h-1zM702 327h1v1h-1zM1024 350h1v2h-1zM1076 406h1v1h-1zM1210 256h1v2h-1zM1150 355h1v1h-1zM1285 171h1v1h-1zM1047 379h1v1h-1zM48 467h1v1h-1zM1277 176h1v1h-1zM592 311h1v1h-1zM1189 301h1v2h-1zM120 351h1v2h-1zM1028 356h1v1h-1zM1131 377h1v2h-1zM1201 275h1v2h-1zM1134 374h1v1h-1zM96 391h1v2h-1zM1246 197h1v1h-1zM510 287h1v1h-1zM129 339h1v1h-1zM1002 321h1v2h-1zM710 321h1v1h-1zM593 312h1v1h-1zM777 231h1v1h-1zM954 272h1v1h-1zM76 429h1v2h-1zM112 361h1v2h-1zM1126 384h1v1h-1zM1129 380h1v1h-1zM1054 386h1v1h-1zM13 496h1v1h-1zM1241 203h1v1h-1zM127 341h1v1h-1zM955 273h1v1h-1zM599 318h1v1h-1zM497 298h1v1h-1zM36 479h1v1h-1zM1165 339h1v1h-1zM1188 303h1v2h-1zM1200 277h1v2h-1zM520 281h1v1h-1zM1039 370h1v1h-1zM474 314h1v1h-1zM961 280h1v1h-1zM28 484h1v1h-1zM1142 364h1v1h-1zM600 319h1v1h-1zM773 237h1v2h-1zM611 328h1v1h-1zM486 306h1v1h-1zM815 216h1v1h-1zM1072 403h1v1h-1zM573 291h1v2h-1zM1249 194h1v1h-1zM1252 190h1v1h-1zM943 258h1v1h-1zM1205 266h1v2h-1zM765 250h1v2h-1zM574 293h1v1h-1zM1184 311h1v1h-1zM1027 354h1v2h-1zM968 287h1v1h-1zM760 258h1v1h-1zM995 313h1v1h-1zM640 332h1v1h-1zM714 318h1v1h-1zM737 292h1v1h-1zM1001 320h1v1h-1zM1038 369h1v1h-1zM107 371h1v2h-1zM749 275h1v1h-1zM84 415h1v2h-1zM1053 385h1v1h-1zM1168 335h1v1h-1zM1271 180h1v1h-1zM99 386h1v1h-1zM1071 402h1v1h-1zM1180 317h1v2h-1zM1145 360h1v1h-1zM64 446h1v1h-1zM1114 400h1v1h-1zM43 472h1v1h-1zM756 264h1v2h-1zM1117 396h1v1h-1zM566 284h1v1h-1zM375 335h1v1h-1zM115 357h1v1h-1zM610 327h1v1h-1zM135 335h1v1h-1zM1016 340h1v1h-1zM987 304h1v1h-1zM745 281h1v2h-1zM17 492h1v1h-1zM1017 341h1v1h-1zM1176 324h1v2h-1zM40 475h1v1h-1zM776 232h1v2h-1zM60 452h1v2h-1zM994 311h1v2h-1zM1157 348h1v1h-1zM1160 344h1v1h-1zM740 288h1v1h-1zM111 363h1v2h-1zM1125 385h1v2h-1zM1192 295h1v2h-1zM1237 208h1v2h-1zM123 347h1v1h-1zM1137 369h1v1h-1zM55 458h1v2h-1zM1232 216h1v1h-1zM1132 376h1v1h-1zM94 395h1v2h-1zM725 308h1v1h-1zM1209 258h1v2h-1zM708 322h1v1h-1zM697 331h1v1h-1zM1060 392h1v1h-1zM131 337h1v1h-1zM1228 222h1v2h-1zM975 293h1v1h-1zM701 328h1v1h-1zM1172 331h1v1h-1zM587 306h1v1h-1zM90 402h1v2h-1zM558 279h1v1h-1zM945 260h1v2h-1zM1220 236h1v2h-1zM1140 366h1v1h-1zM1196 287h1v2h-1zM588 307h1v1h-1zM736 293h1v2h-1zM47 468h1v1h-1zM946 262h1v1h-1zM126 342h1v2h-1zM106 373h1v2h-1zM83 417h1v2h-1zM1187 305h1v2h-1zM1167 336h1v2h-1zM1067 399h1v1h-1zM480 310h1v1h-1zM1179 319h1v2h-1zM743 284h1v1h-1zM1049 381h1v1h-1zM809 220h1v1h-1zM728 304h1v1h-1zM752 270h1v2h-1zM594 313h1v1h-1zM1113 402h1v1h-1zM1031 359h1v2h-1zM492 302h1v1h-1zM1004 324h1v1h-1zM595 314h1v1h-1zM1204 268h1v2h-1zM67 442h1v1h-1zM70 438h1v1h-1zM986 303h1v1h-1zM79 425h1v1h-1zM1005 325h1v1h-1zM1183 312h1v2h-1zM1108 408h1v1h-1zM1152 353h1v1h-1zM1224 229h1v1h-1zM759 259h1v2h-1zM50 464h1v2h-1zM572 290h1v1h-1zM1215 246h1v2h-1zM1248 195h1v1h-1zM646 337h1v1h-1zM963 282h1v1h-1zM1191 297h1v2h-1zM430 322h1v1h-1zM164 324h1v1h-1zM98 387h1v2h-1zM993 310h1v1h-1zM964 283h1v1h-1zM647 338h1v1h-1zM1231 217h1v2h-1zM1128 381h1v2h-1zM779 228h1v1h-1zM503 293h1v1h-1zM1243 201h1v1h-1zM168 321h1v1h-1zM114 359h1v1h-1zM38 477h1v1h-1zM58 455h1v1h-1zM1199 279h1v2h-1zM61 451h1v1h-1zM507 290h1v1h-1zM496 299h1v1h-1zM949 266h1v1h-1zM73 434h1v1h-1zM1164 340h1v1h-1zM731 300h1v1h-1zM1030 358h1v1h-1zM665 345h1v1h-1zM755 266h1v1h-1zM89 404h1v2h-1zM31 482h1v1h-1zM1219 238h1v2h-1zM956 274h1v1h-1zM23 487h1v1h-1zM1041 372h1v1h-1zM110 365h1v2h-1zM1162 342h1v1h-1zM1251 191h1v1h-1zM305 331h1v1h-1zM1018 342h1v2h-1zM213 324h1v1h-1zM601 320h1v1h-1zM1175 326h1v1h-1zM762 255h1v1h-1zM1048 380h1v1h-1zM1019 344h1v1h-1zM1289 168h1v1h-1zM944 259h1v1h-1zM1029 357h1v1h-1zM575 294h1v1h-1zM1293 165h1v1h-1zM1147 358h1v1h-1zM734 296h1v1h-1zM45 470h1v1h-1zM101 383h1v1h-1zM1116 397h1v1h-1zM703 326h1v1h-1zM1055 387h1v1h-1zM515 284h1v1h-1zM1111 404h1v1h-1zM1214 248h1v2h-1zM582 301h1v1h-1zM1040 371h1v1h-1zM42 473h1v1h-1zM97 389h1v2h-1zM1227 224h1v1h-1zM1073 404h1v1h-1zM742 285h1v2h-1zM1139 367h1v1h-1zM1062 394h1v1h-1zM1159 345h1v1h-1zM1186 307h1v2h-1zM1198 281h1v2h-1zM14 495h1v1h-1zM255 329h1v1h-1zM69 439h1v2h-1zM1119 394h1v1h-1zM948 264h1v2h-1zM1122 389h1v2h-1zM996 314h1v1h-1zM117 355h1v1h-1zM1234 213h1v1h-1zM93 397h1v1h-1zM590 309h1v1h-1zM1154 351h1v1h-1zM718 315h1v1h-1zM1270 181h1v1h-1zM1182 314h1v2h-1zM133 335h1v1h-1zM722 312h1v1h-1zM769 244h1v1h-1zM1006 326h1v2h-1zM711 320h1v1h-1zM1230 219h1v2h-1zM1007 328h1v1h-1zM778 229h1v2h-1zM758 261h1v1h-1zM49 466h1v1h-1zM988 305h1v1h-1zM694 334h1v1h-1zM1061 393h1v1h-1zM21 489h1v1h-1zM72 435h1v2h-1zM498 297h1v1h-1zM1166 338h1v1h-1zM730 301h1v2h-1zM1021 346h1v2h-1zM525 278h1v1h-1zM471 316h1v1h-1zM648 339h1v1h-1zM502 294h1v1h-1zM577 297h1v1h-1zM589 308h1v1h-1zM1218 240h1v2h-1zM947 263h1v1h-1zM483 308h1v1h-1zM812 218h1v1h-1zM37 478h1v1h-1zM57 456h1v1h-1zM966 285h1v1h-1zM104 379h1v1h-1zM578 298h1v1h-1zM1110 405h1v2h-1zM999 318h1v1h-1zM563 282h1v1h-1zM1032 361h1v1h-1zM761 256h1v2h-1zM52 462h1v1h-1zM1042 373h1v2h-1zM596 315h1v1h-1zM1043 375h1v1h-1zM976 294h1v1h-1zM733 297h1v2h-1zM1245 198h1v2h-1zM170 319h1v1h-1zM1233 214h1v2h-1zM1130 379h1v1h-1zM977 295h1v1h-1zM128 340h1v1h-1zM509 288h1v1h-1zM1242 202h1v1h-1zM75 431h1v2h-1zM163 325h1v1h-1zM1169 334h1v1h-1zM1020 345h1v1h-1zM603 322h1v1h-1zM1178 321h1v1h-1zM1213 250h1v2h-1zM513 285h1v1h-1zM1050 382h1v1h-1zM88 406h1v2h-1zM44 471h1v1h-1zM1253 189h1v1h-1zM1035 365h1v2h-1zM638 330h1v1h-1zM607 324h1v1h-1zM1141 365h1v1h-1zM772 239h1v1h-1zM957 275h1v1h-1zM958 276h1v1h-1zM119 353h1v1h-1zM1133 375h1v1h-1zM741 287h1v1h-1zM1280 174h1v1h-1zM1149 356h1v1h-1zM1083 410h1v1h-1zM965 284h1v1h-1zM1118 395h1v1h-1zM705 324h1v1h-1zM116 356h1v1h-1zM950 267h1v1h-1zM477 312h1v1h-1zM983 300h1v1h-1zM1161 343h1v1h-1zM1229 221h1v1h-1zM1056 388h1v1h-1zM744 283h1v1h-1zM984 301h1v1h-1zM16 493h1v1h-1zM1008 329h1v1h-1z" fill="#ff4500"/>
<rect x="4" y="383" width="1" height="38" fill="#32cd32"/>
<rect x="2" y="385" width="5" height="32" fill="#32cd32"/>
<rect x="12" y="389" width="1" height="35" fill="#ff4500"/>
<rect x="10" y="391" width="5" height="25" fill="#ff4500"/>
<rect x="20" y="282" width="1" height="126" fill="#ff4500"/>
<rect x="18" y="289" width="5" height="104" fill="#ff4500"/>
<rect x="28" y="282" width="1" height="56" fill="#32cd32"/>
<rect x="26" y="288" width="5" height="5" fill="#32cd32"/>
<rect x="36" y="274" width="1" height="77" fill="#32cd32"/>
<rect x="34" y="291" width="5" height="48" fill="#32cd32"/>
<rect x="44" y="331" width="1" height="15" fill="#32cd32"/>
<rect x="42" y="337" width="5" height="3" fill="#32cd32"/>
<rect x="52" y="330" width="1" height="31" fill="#ff4500"/>
<rect x="50" y="337" width="5" height="24" fill="#ff4500"/>
<rect x="60" y="305" width="1" height="44" fill="#ff4500"/>
<rect x="58" y="323" width="5" height="14" fill="#ff4500"/>
<rect x="68" y="264" width="1" height="74" fill="#ff4500"/>
<rect x="66" y="278" width="5" height="45" fill="#ff4500"/>
<rect x="76" y="233" width="1" height="67" fill="#ff4500"/>
<rect x="74" y="270" width="5" height="8" fill="#ff4500"/>
<rect x="84" y="242" width="1" height="44" fill="#ff4500"/>
<rect x="82" y="259" width="5" height="11" fill="#ff4500"/>
<rect x="92" y="249" width="1" height="19" fill="#ff4500"/>
<rect x="90" y="258" width="5" height="3" fill="#ff4500"/>
<rect x="100" y="272" width="1" height="27" fill="#32cd32"/>
<rect x="98" y="275" width="5" height="14" fill="#32cd32"/>
<rect x="108" y="277" width="1" height="39" fill="#32cd32"/>
<rect x="106" y="289" width="5" height="18" fill="#32cd32"/>
<rect x="116" y="259" width="1" height="57" fill="#ff4500"/>
<rect x="114" y="295" width="5" height="11" fill="#ff4500"/>
<rect x="124" y="221" width="1" height="173" fill="#32cd32"/>
<rect x="122" y="294" width="5" height="83" fill="#32cd32"/>
<rect x="132" y="353" width="1" height="38" fill="#ff4500"/>
<rect x="130" y="366" width="5" height="9" fill="#ff4500"/>
<rect x="140" y="363" width="1" height="15" fill="#32cd32"/>
<rect x="138" y="367" width="5" height="11" fill="#32cd32"/>
<rect x="148" y="371" width="1" height="17" fill="#32cd32"/>
<rect x="146" y="378" width="5" height="8" fill="#32cd32"/>
<rect x="156" y="323" width="1" height="64" fill="#ff4500"/>
<rect x="154" y="338" width="5" height="46" fill="#ff4500"/>
<rect x="164" y="284" width="1" height="53" fill="#ff4500"/>
<rect x="162" y="300" width="5" height="37" fill="#ff4500"/>
<rect x="172" y="266" width="1" height="80" fill="#ff4500"/>
<rect x="170" y="267" width="5" height="35" fill="#ff4500"/>
<rect x="180" y="266" width="1" height="85" fill="#32cd32"/>
<rect x="178" y="266" width="5" height="70" fill="#32cd32"/>
<rect x="188" y="312" width="1" height="29" fill="#ff4500"/>
<rect x="186" y="313" width="5" height="24" fill="#ff4500"/>
<rect x="196" y="327" width="1" height="19" fill="#32cd32"/>
<rect x="194" y="329" width="5" height="10" fill="#32cd32"/>
<rect x="204" y="332" width="1" height="54" fill="#32cd32"/>
<rect x="202" y="339" width="5" height="38" fill="#32cd32"/>
<rect x="212" y="356" width="1" height="86" fill="#32cd32"/>
<rect x="210" y="378" width="5" height="35" fill="#32cd32"/>
<rect x="220" y="305" width="1" height="179" fill="#ff4500"/>
<rect x="218" y="315" width="5" height="99" fill="#ff4500"/>
<rect x="228" y="282" width="1" height="52" fill="#ff4500"/>
<rect x="226" y="288" width="5" height="26" fill="#ff4500"/>
<rect x="236" y="285" width="1" height="8" fill="#32cd32"/>
<rect x="234" y="289" width="5" height="2" fill="#32cd32"/>
<rect x="244" y="292" width="1" height="34" fill="#32cd32"/>
<rect x="242" y="292" width="5" height="22" fill="#32cd32"/>
<rect x="252" y="310" width="1" height="49" fill="#32cd32"/>
<rect x="250" y="312" width="5" height="46" fill="#32cd32"/>
<rect x="260" y="349" width="1" height="30" fill="#ff4500"/>
<rect x="258" y="351" width="5" height="6" fill="#ff4500"/>
<rect x="268" y="336" width="1" height="58" fill="#32cd32"/>
<rect x="266" y="352" width="5" height="19" fill="#32cd32"/>
<rect x="276" y="276" width="1" height="105" fill="#ff4500"/>
<rect x="274" y="291" width="5" height="81" fill="#ff4500"/>
<rect x="284" y="282" width="1" height="61" fill="#32cd32"/>
<rect x="282" y="289" width="5" height="39" fill="#32cd32"/>
<rect x="292" y="321" width="1" height="19" fill="#ff4500"/>
<rect x="290" y="326" width="5" height="3" fill="#ff4500"/>
<rect x="300" y="318" width="1" height="45" fill="#ff4500"/>
<rect x="298" y="320" width="5" height="22" fill="#ff4500"/>
<rect x="308" y="292" width="1" height="36" fill="#ff4500"/>
<rect x="306" y="311" width="5" height="10" fill="#ff4500"/>
<rect x="316" y="280" width="1" height="58" fill="#ff4500"/>
<rect x="314" y="306" width="5" height="3" fill="#ff4500"/>
<rect x="324" y="266" width="1" height="98" fill="#32cd32"/>
<rect x="322" y="307" width="5" height="35" fill="#32cd32"/>
<rect x="332" y="307" width="1" height="64" fill="#32cd32"/>
<rect x="330" y="343" width="5" height="3" fill="#32cd32"/>
<rect x="340" y="344" width="1" height="14" fill="#32cd32"/>
<rect x="338" y="345" width="5" height="9" fill="#32cd32"/>
<rect x="348" y="351" width="1" height="23" fill="#32cd32"/>
<rect x="346" y="364" width="5" height="7" fill="#32cd32"/>
<rect x="356" y="365" width="1" height="38" fill="#32cd32"/>
<rect x="354" y="370" width="5" height="31" fill="#32cd32"/>
<rect x="364" y="386" width="1" height="45" fill="#ff4500"/>
<rect x="362" y="387" width="5" height="13" fill="#ff4500"/>
<rect x="372" y="298" width="1" height="113" fill="#ff4500"/>
<rect x="370" y="308" width="5" height="79" fill="#ff4500"/>
<rect x="380" y="280" width="1" height="46" fill="#ff4500"/>
<rect x="378" y="301" width="5" height="7" fill="#ff4500"/>
<rect x="388" y="280" width="1" height="26" fill="#ff4500"/>
<rect x="386" y="292" width="5" height="9" fill="#ff4500"/>
<rect x="396" y="264" width="1" height="40" fill="#ff4500"/>
<rect x="394" y="281" width="5" height="18" fill="#ff4500"/>
<rect x="404" y="263" width="1" height="26" fill="#32cd32"/>
<rect x="402" y="280" width="5" height="2" fill="#32cd32"/>
<rect x="412" y="231" width="1" height="58" fill="#ff4500"/>
<rect x="410" y="254" width="5" height="27" fill="#ff4500"/>
<rect x="420" y="238" width="1" height="86" fill="#32cd32"/>
<rect x="418" y="253" width="5" height="55" fill="#32cd32"/>
<rect x="428" y="299" width="1" height="38" fill="#32cd32"/>
<rect x="426" y="308" width="5" height="4" fill="#32cd32"/>
<rect x="436" y="310" width="1" height="11" fill="#000"/>
<rect x="434" y="310" width="5" height="1" fill="#000"/>
<rect x="444" y="289" width="1" height="22" fill="#ff4500"/>
<rect x="442" y="294" width="5" height="15" fill="#ff4500"/>
<rect x="452" y="290" width="1" height="43" fill="#32cd32"/>
<rect x="450" y="293" width="5" height="39" fill="#32cd32"/>
<rect x="460" y="322" width="1" height="60" fill="#32cd32"/>
<rect x="458" y="330" width="5" height="25" fill="#32cd32"/>
<rect x="468" y="200" width="1" height="169" fill="#ff4500"/>
<rect x="466" y="222" width="5" height="131" fill="#ff4500"/>
<rect x="476" y="187" width="1" height="44" fill="#ff4500"/>
<rect x="474" y="217" width="5" height="5" fill="#ff4500"/>
<rect x="484" y="205" width="1" height="14" fill="#ff4500"/>
<rect x="482" y="214" width="5" height="5" fill="#ff4500"/>
<rect x="492" y="206" width="1" height="25" fill="#32cd32"/>
<rect x="490" y="206" width="5" height="16" fill="#32cd32"/>
<rect x="500" y="210" width="1" height="22" fill="#000"/>
<rect x="498" y="220" width="5" height="1" fill="#000"/>
<rect x="508" y="197" width="1" height="41" fill="#ff4500"/>
<rect x="506" y="210" width="5" height="10" fill="#ff4500"/>
<rect x="516" y="206" width="1" height="43" fill="#32cd32"/>
<rect x="514" y="207" width="5" height="33" fill="#32cd32"/>
<rect x="524" y="233" width="1" height="68" fill="#32cd32"/>
<rect x="522" y="240" width="5" height="45" fill="#32cd32"/>
<rect x="532" y="285" width="1" height="72" fill="#32cd32"/>
<rect x="530" y="285" width="5" height="42" fill="#32cd32"/>
<rect x="540" y="318" width="1" height="21" fill="#ff4500"/>
<rect x="538" y="324" width="5" height="2" fill="#ff4500"/>
<rect x="548" y="315" width="1" height="19" fill="#ff4500"/>
<rect x="546" y="318" width="5" height="10" fill="#ff4500"/>
<rect x="556" y="307" width="1" height="32" fill="#ff4500"/>
<rect x="554" y="308" width="5" height="10" fill="#ff4500"/>
<rect x="564" y="296" width="1" height="94" fill="#32cd32"/>
<rect x="562" y="309" width="5" height="81" fill="#32cd32"/>
<rect x="572" y="367" width="1" height="69" fill="#32cd32"/>
<rect x="570" y="390" width="5" height="27" fill="#32cd32"/>
<rect x="580" y="407" width="1" height="75" fill="#32cd32"/>
<rect x="578" y="414" width="5" height="47" fill="#32cd32"/>
<rect x="588" y="458" width="1" height="24" fill="#32cd32"/>
<rect x="586" y="458" width="5" height="21" fill="#32cd32"/>
<rect x="596" y="447" width="1" height="26" fill="#32cd32"/>
<rect x="594" y="458" width="5" height="11" fill="#32cd32"/>
<rect x="604" y="466" width="1" height="56" fill="#32cd32"/>
<rect x="602" y="467" width="5" height="12" fill="#32cd32"/>
<rect x="612" y="410" width="1" height="79" fill="#ff4500"/>
<rect x="610" y="426" width="5" height="54" fill="#ff4500"/>
<rect x="620" y="275" width="1" height="161" fill="#ff4500"/>
<rect x="618" y="302" width="5" height="126" fill="#ff4500"/>
<rect x="628" y="272" width="1" height="72" fill="#32cd32"/>
<rect x="626" y="303" width="5" height="11" fill="#32cd32"/>
<rect x="636" y="298" width="1" height="18" fill="#ff4500"/>
<rect x="634" y="307" width="5" height="5" fill="#ff4500"/>
<rect x="644" y="316" width="1" height="27" fill="#32cd32"/>
<rect x="642" y="329" width="5" height="5" fill="#32cd32"/>
<rect x="652" y="307" width="1" height="44" fill="#32cd32"/>
<rect x="650" y="332" width="5" height="16" fill="#32cd32"/>
<rect x="660" y="293" width="1" height="68" fill="#ff4500"/>
<rect x="658" y="303" width="5" height="46" fill="#ff4500"/>
<rect x="668" y="176" width="1" height="129" fill="#ff4500"/>
<rect x="666" y="198" width="5" height="107" fill="#ff4500"/>
<rect x="676" y="149" width="1" height="62" fill="#ff4500"/>
<rect x="674" y="175" width="5" height="25" fill="#ff4500"/>
<rect x="684" y="175" width="1" height="15" fill="#32cd32"/>
<rect x="682" y="176" width="5" height="3" fill="#32cd32"/>
<rect x="692" y="181" width="1" height="17" fill="#32cd32"/>
<rect x="690" y="186" width="5" height="2" fill="#32cd32"/>
<rect x="700" y="157" width="1" height="48" fill="#ff4500"/>
<rect x="698" y="172" width="5" height="15" fill="#ff4500"/>
<rect x="708" y="148" width="1" height="46" fill="#ff4500"/>
<rect x="706" y="161" width="5" height="10" fill="#ff4500"/>
<rect x="716" y="125" width="1" height="129" fill="#32cd32"/>
<rect x="714" y="162" width="5" height="46" fill="#32cd32"/>
<rect x="724" y="187" width="1" height="62" fill="#ff4500"/>
<rect x="722" y="188" width="5" height="19" fill="#ff4500"/>
<rect x="732" y="185" width="1" height="20" fill="#32cd32"/>
<rect x="730" y="187" width="5" height="16" fill="#32cd32"/>
<rect x="740" y="191" width="1" height="20" fill="#ff4500"/>
<rect x="738" y="194" width="5" height="15" fill="#ff4500"/>
<rect x="748" y="189" width="1" height="31" fill="#32cd32"/>
<rect x="746" y="195" width="5" height="3" fill="#32cd32"/>
<rect x="756" y="175" width="1" height="30" fill="#ff4500"/>
<rect x="754" y="179" width="5" height="18" fill="#ff4500"/>
<rect x="764" y="172" width="1" height="57" fill="#32cd32"/>
<rect x="762" y="180" width="5" height="43" fill="#32cd32"/>
<rect x="772" y="179" width="1" height="77" fill="#ff4500"/>
<rect x="770" y="198" width="5" height="26" fill="#ff4500"/>
<rect x="780" y="173" width="1" height="76" fill="#ff4500"/>
<rect x="778" y="190" width="5" height="8" fill="#ff4500"/>
<rect x="788" y="277" width="1" height="22" fill="#000"/>
<rect x="786" y="289" width="5" height="1" fill="#000"/>
<rect x="796" y="283" width="1" height="25" fill="#ff4500"/>
<rect x="794" y="284" width="5" height="7" fill="#ff4500"/>
<rect x="804" y="257" width="1" height="54" fill="#ff4500"/>
<rect x="802" y="275" width="5" height="9" fill="#ff4500"/>
<rect x="812" y="230" width="1" height="73" fill="#ff4500"/>
<rect x="810" y="246" width="5" height="29" fill="#ff4500"/>
<rect x="820" y="226" width="1" height="65" fill="#ff4500"/>
<rect x="818" y="232" width="5" height="14" fill="#ff4500"/>
<rect x="828" y="231" width="1" height="28" fill="#32cd32"/>
<rect x="826" y="231" width="5" height="18" fill="#32cd32"/>
<rect x="836" y="242" width="1" height="20" fill="#ff4500"/>
<rect x="834" y="243" width="5" height="14" fill="#ff4500"/>
<rect x="844" y="217" width="1" height="35" fill="#ff4500"/>
<rect x="842" y="228" width="5" height="15" fill="#ff4500"/>
<rect x="852" y="195" width="1" height="37" fill="#ff4500"/>
<rect x="850" y="219" width="5" height="8" fill="#ff4500"/>
<rect x="860" y="203" width="1" height="101" fill="#32cd32"/>
<rect x="858" y="217" width="5" height="68" fill="#32cd32"/>
<rect x="868" y="240" width="1" height="66" fill="#ff4500"/>
<rect x="866" y="248" width="5" height="38" fill="#ff4500"/>
<rect x="876" y="242" width="1" height="8" fill="#ff4500"/>
<rect x="874" y="244" width="5" height="6" fill="#ff4500"/>
<rect x="884" y="265" width="1" height="16" fill="#ff4500"/>
<rect x="882" y="266" width="5" height="7" fill="#ff4500"/>
<rect x="892" y="265" width="1" height="23" fill="#32cd32"/>
<rect x="890" y="267" width="5" height="8" fill="#32cd32"/>
<rect x="900" y="248" width="1" height="53" fill="#ff4500"/>
<rect x="898" y="267" width="5" height="9" fill="#ff4500"/>
<rect x="908" y="237" width="1" height="63" fill="#32cd32"/>
<rect x="906" y="266" width="5" height="7" fill="#32cd32"/>
<rect x="916" y="217" width="1" height="55" fill="#ff4500"/>
<rect x="914" y="223" width="5" height="49" fill="#ff4500"/>
<rect x="924" y="232" width="1" height="26" fill="#32cd32"/>
<rect x="922" y="232" width="5" height="22" fill="#32cd32"/>
<rect x="932" y="232" width="1" height="36" fill="#32cd32"/>
<rect x="930" y="252" width="5" height="13" fill="#32cd32"/>
<rect x="940" y="245" width="1" height="36" fill="#ff4500"/>
<rect x="938" y="255" width="5" height="9" fill="#ff4500"/>
<rect x="948" y="249" width="1" height="224" fill="#32cd32"/>
<rect x="946" y="254" width="5" height="217" fill="#32cd32"/>
<rect x="956" y="463" width="1" height="55" fill="#32cd32"/>
<rect x="954" y="469" width="5" height="13" fill="#32cd32"/>
<rect x="964" y="442" width="1" height="38" fill="#ff4500"/>
<rect x="962" y="445" width="5" height="33" fill="#ff4500"/>
<rect x="972" y="415" width="1" height="30" fill="#ff4500"/>
<rect x="970" y="423" width="5" height="22" fill="#ff4500"/>
<rect x="980" y="416" width="1" height="26" fill="#32cd32"/>
<rect x="978" y="422" width="5" height="12" fill="#32cd32"/>
<rect x="988" y="346" width="1" height="96" fill="#ff4500"/>
<rect x="986" y="356" width="5" height="77" fill="#ff4500"/>
<rect x="996" y="343" width="1" height="115" fill="#32cd32"/>
<rect x="994" y="355" width="5" height="92" fill="#32cd32"/>
<rect x="1004" y="391" width="1" height="85" fill="#32cd32"/>
<rect x="1002" y="447" width="5" height="8" fill="#32cd32"/>
<rect x="1012" y="451" width="1" height="18" fill="#32cd32"/>
<rect x="1010" y="453" width="5" height="12" fill="#32cd32"/>
<rect x="1020" y="433" width="1" height="23" fill="#32cd32"/>
<rect x="1018" y="446" width="5" height="3" fill="#32cd32"/>
<rect x="1028" y="421" width="1" height="33" fill="#ff4500"/>
<rect x="1026" y="430" width="5" height="20" fill="#ff4500"/>
<rect x="1036" y="412" width="1" height="82" fill="#32cd32"/>
<rect x="1034" y="429" width="5" height="64" fill="#32cd32"/>
<rect x="1044" y="430" width="1" height="92" fill="#ff4500"/>
<rect x="1042" y="461" width="5" height="33" fill="#ff4500"/>
<rect x="1052" y="393" width="1" height="87" fill="#ff4500"/>
<rect x="1050" y="451" width="5" height="12" fill="#ff4500"/>
<rect x="1060" y="431" width="1" height="30" fill="#ff4500"/>
<rect x="1058" y="435" width="5" height="16" fill="#ff4500"/>
<rect x="1068" y="411" width="1" height="41" fill="#ff4500"/>
<rect x="1066" y="421" width="5" height="23" fill="#ff4500"/>
<rect x="1076" y="414" width="1" height="33" fill="#ff4500"/>
<rect x="1074" y="417" width="5" height="4" fill="#ff4500"/>
<rect x="1084" y="340" width="1" height="86" fill="#ff4500"/>
<rect x="1082" y="340" width="5" height="79" fill="#ff4500"/>
<rect x="1092" y="220" width="1" height="149" fill="#ff4500"/>
<rect x="1090" y="228" width="5" height="114" fill="#ff4500"/>
<rect x="1100" y="201" width="1" height="58" fill="#32cd32"/>
<rect x="1098" y="229" width="5" height="19" fill="#32cd32"/>
<rect x="1108" y="247" width="1" height="11" fill="#000"/>
<rect x="1106" y="248" width="5" height="1" fill="#000"/>
<rect x="1116" y="248" width="1" height="16" fill="#32cd32"/>
<rect x="1114" y="254" width="5" height="5" fill="#32cd32"/>
<rect x="1124" y="238" width="1" height="40" fill="#32cd32"/>
<rect x="1122" y="259" width="5" height="4" fill="#32cd32"/>
<rect x="1132" y="175" width="1" height="95" fill="#ff4500"/>
<rect x="1130" y="196" width="5" height="68" fill="#ff4500"/>
<rect x="1140" y="161" width="1" height="93" fill="#32cd32"/>
<rect x="1138" y="199" width="5" height="5" fill="#32cd32"/>
<rect x="1148" y="191" width="1" height="62" fill="#32cd32"/>
<rect x="1146" y="205" width="5" height="12" fill="#32cd32"/>
<rect x="1156" y="205" width="1" height="27" fill="#32cd32"/>
<rect x="1154" y="215" width="5" height="11" fill="#32cd32"/>
<rect x="1164" y="206" width="1" height="38" fill="#32cd32"/>
<rect x="1162" y="206" width="5" height="33" fill="#32cd32"/>
<rect x="1172" y="203" width="1" height="41" fill="#ff4500"/>
<rect x="1170" y="223" width="5" height="15" fill="#ff4500"/>
<rect x="1180" y="188" width="1" height="68" fill="#ff4500"/>
<rect x="1178" y="215" width="5" height="8" fill="#ff4500"/>
<rect x="1188" y="64" width="1" height="206" fill="#ff4500"/>
<rect x="1186" y="119" width="5" height="96" fill="#ff4500"/>
<rect x="1196" y="103" width="1" height="50" fill="#32cd32"/>
<rect x="1194" y="120" width="5" height="8" fill="#32cd32"/>
<rect x="1204" y="115" width="1" height="14" fill="#ff4500"/>
<rect x="1202" y="119" width="5" height="8" fill="#ff4500"/>
<rect x="1212" y="111" width="1" height="26" fill="#32cd32"/>
<rect x="1210" y="122" width="5" height="15" fill="#32cd32"/>
<rect x="1220" y="127" width="1" height="21" fill="#ff4500"/>
<rect x="1218" y="135" width="5" height="4" fill="#ff4500"/>
<rect x="1228" y="122" width="1" height="23" fill="#ff4500"/>
<rect x="1226" y="132" width="5" height="3" fill="#ff4500"/>
<rect x="1236" y="128" width="1" height="62" fill="#32cd32"/>
<rect x="1234" y="133" width="5" height="50" fill="#32cd32"/>
<rect x="1244" y="108" width="1" height="83" fill="#ff4500"/>
<rect x="1242" y="137" width="5" height="47" fill="#ff4500"/>
<rect x="1252" y="102" width="1" height="43" fill="#ff4500"/>
<rect x="1250" y="134" width="5" height="3" fill="#ff4500"/>
<rect x="1260" y="130" width="1" height="19" fill="#32cd32"/>
<rect x="1258" y="133" width="5" height="15" fill="#32cd32"/>
<rect x="1268" y="130" width="1" height="21" fill="#ff4500"/>
<rect x="1266" y="139" width="5" height="11" fill="#ff4500"/>
<rect x="1276" y="125" width="1" height="34" fill="#32cd32"/>
<rect x="1274" y="140" width="5" height="6" fill="#32cd32"/>
<rect x="1284" y="83" width="1" height="90" fill="#32cd32"/>
<rect x="1282" y="146" width="5" height="21" fill="#32cd32"/>
<rect x="1292" y="101" width="1" height="73" fill="#ff4500"/>
<rect x="1290" y="123" width="5" height="45" fill="#ff4500"/>
<rect x="1300" y="93" width="1" height="36" fill="#ff4500"/>
<rect x="1298" y="112" width="5" height="11" fill="#ff4500"/>
<rect x="1308" y="109" width="1" height="36" fill="#32cd32"/>
<rect x="1306" y="111" width="5" height="23" fill="#32cd32"/>
<rect x="1316" y="133" width="1" height="1" fill="#000"/>
<rect x="1314" y="133" width="5" height="1" fill="#000"/>
</g>
<g clip-path="url(#cd)" shape-rendering="crispEdges">
<rect x="4" y="564" width="1" height="4" fill="#c0c0c0"/>
<rect x="12" y="562" width="1" height="6" fill="#c0c0c0"/>
<rect x="20" y="556" width="1" height="12" fill="#c0c0c0"/>
<rect x="28" y="552" width="1" height="16" fill="#c0c0c0"/>
<rect x="36" y="551" width="1" height="17" fill="#c0c0c0"/>
<rect x="44" y="548" width="1" height="20" fill="#c0c0c0"/>
<rect x="52" y="548" width="1" height="20" fill="#c0c0c0"/>
<rect x="60" y="546" width="1" height="22" fill="#c0c0c0"/>
<rect x="68" y="545" width="1" height="23" fill="#c0c0c0"/>
<rect x="76" y="543" width="1" height="25" fill="#c0c0c0"/>
<rect x="84" y="541" width="1" height="27" fill="#c0c0c0"/>
<rect x="92" y="540" width="1" height="28" fill="#c0c0c0"/>
<rect x="100" y="543" width="1" height="25" fill="#c0c0c0"/>
<rect x="108" y="544" width="1" height="24" fill="#c0c0c0"/>
<rect x="116" y="548" width="1" height="20" fill="#c0c0c0"/>
<rect x="124" y="552" width="1" height="16" fill="#c0c0c0"/>
<rect x="132" y="553" width="1" height="15" fill="#c0c0c0"/>
<rect x="140" y="554" width="1" height="14" fill="#c0c0c0"/>
<rect x="148" y="556" width="1" height="12" fill="#c0c0c0"/>
<rect x="156" y="558" width="1" height="10" fill="#c0c0c0"/>
<rect x="164" y="558" width="1" height="10" fill="#c0c0c0"/>
<rect x="172" y="556" width="1" height="12" fill="#c0c0c0"/>
<rect x="180" y="558" width="1" height="10" fill="#c0c0c0"/>
<rect x="188" y="558" width="1" height="10" fill="#c0c0c0"/>
<rect x="196" y="558" width="1" height="10" fill="#c0c0c0"/>
<rect x="204" y="562" width="1" height="6" fill="#c0c0c0"/>
<rect x="212" y="565" width="1" height="3" fill="#c0c0c0"/>
<rect x="220" y="566" width="1" height="2" fill="#c0c0c0"/>
<rect x="228" y="564" width="1" height="4" fill="#c0c0c0"/>
<rect x="236" y="562" width="1" height="6" fill="#c0c0c0"/>
<rect x="244" y="560" width="1" height="8" fill="#c0c0c0"/>
<rect x="252" y="564" width="1" height="4" fill="#c0c0c0"/>
<rect x="260" y="564" width="1" height="4" fill="#c0c0c0"/>
<rect x="268" y="566" width="1" height="2" fill="#c0c0c0"/>
<rect x="276" y="566" width="1" height="2" fill="#c0c0c0"/>
<rect x="284" y="564" width="1" height="4" fill="#c0c0c0"/>
<rect x="292" y="564" width="1" height="4" fill="#c0c0c0"/>
<rect x="300" y="565" width="1" height="3" fill="#c0c0c0"/>
<rect x="308" y="565" width="1" height="3" fill="#c0c0c0"/>
<rect x="316" y="564" width="1" height="4" fill="#c0c0c0"/>
<rect x="324" y="564" width="1" height="4" fill="#c0c0c0"/>
<rect x="332" y="564" width="1" height="4" fill="#c0c0c0"/>
<rect x="340" y="566" width="1" height="2" fill="#c0c0c0"/>
<rect x="348" y="567" width="1" height="1" fill="#c0c0c0"/>
<rect x="356" y="567" width="1" height="2" fill="#c0c0c0"/>
<rect x="364" y="567" width="1" height="4" fill="#c0c0c0"/>
<rect x="372" y="567" width="1" height="3" fill="#c0c0c0"/>
<rect x="380" y="567" width="1" height="1" fill="#c0c0c0"/>
<rect x="388" y="567" width="1" height="1" fill="#c0c0c0"/>
<rect x="396" y="566" width="1" height="2" fill="#c0c0c0"/>
<rect x="404" y="564" width="1" height="4" fill="#c0c0c0"/>
<rect x="412" y="562" width="1" height="6" fill="#c0c0c0"/>
<rect x="420" y="562" width="1" height="6" fill="#c0c0c0"/>
<rect x="428" y="562" width="1" height="6" fill="#c0c0c0"/>
<rect x="436" y="563" width="1" height="5" fill="#c0c0c0"/>
<rect x="444" y="564" width="1" height="4" fill="#c0c0c0"/>
<rect x="452" y="564" width="1" height="4" fill="#c0c0c0"/>
<rect x="460" y="563" width="1" height="5" fill="#c0c0c0"/>
<rect x="468" y="563" width="1" height="5" fill="#c0c0c0"/>
<rect x="476" y="560" width="1" height="8" fill="#c0c0c0"/>
<rect x="484" y="557" width="1" height="11" fill="#c0c0c0"/>
<rect x="492" y="556" width="1" height="12" fill="#c0c0c0"/>
<rect x="500" y="556" width="1" height="12" fill="#c0c0c0"/>
<rect x="508" y="555" width="1" height="13" fill="#c0c0c0"/>
<rect x="516" y="555" width="1" height="13" fill="#c0c0c0"/>
<rect x="524" y="556" width="1" height="12" fill="#c0c0c0"/>
<rect x="532" y="560" width="1" height="8" fill="#c0c0c0"/>
<rect x="540" y="564" width="1" height="4" fill="#c0c0c0"/>
<rect x="548" y="566" width="1" height="2" fill="#c0c0c0"/>
<rect x="556" y="566" width="1" height="2" fill="#c0c0c0"/>
<rect x="564" y="567" width="1" height="2" fill="#c0c0c0"/>
<rect x="572" y="567" width="1" height="6" fill="#c0c0c0"/>
<rect x="580" y="567" width="1" height="11" fill="#c0c0c0"/>
<rect x="588" y="567" width="1" height="15" fill="#c0c0c0"/>
<rect x="596" y="567" width="1" height="18" fill="#c0c0c0"/>
<rect x="604" y="567" width="1" height="22" fill="#c0c0c0"/>
<rect x="612" y="567" width="1" height="22" fill="#c0c0c0"/>
<rect x="620" y="567" width="1" height="17" fill="#c0c0c0"/>
<rect x="628" y="567" width="1" height="13" fill="#c0c0c0"/>
<rect x="636" y="567" width="1" height="9" fill="#c0c0c0"/>
<rect x="644" y="567" width="1" height="7" fill="#c0c0c0"/>
<rect x="652" y="567" width="1" height="6" fill="#c0c0c0"/>
<rect x="660" y="567" width="1" height="4" fill="#c0c0c0"/>
<rect x="668" y="567" width="1" height="1" fill="#c0c0c0"/>
<rect x="676" y="562" width="1" height="6" fill="#c0c0c0"/>
<rect x="684" y="556" width="1" height="12" fill="#c0c0c0"/>
<rect x="692" y="554" width="1" height="14" fill="#c0c0c0"/>
<rect x="700" y="552" width="1" height="16" fill="#c0c0c0"/>
<rect x="708" y="548" width="1" height="20" fill="#c0c0c0"/>
<rect x="716" y="548" width="1" height="20" fill="#c0c0c0"/>
<rect x="724" y="548" width="1" height="20" fill="#c0c0c0"/>
<rect x="732" y="548" width="1" height="20" fill="#c0c0c0"/>
<rect x="740" y="549" width="1" height="19" fill="#c0c0c0"/>
<rect x="748" y="550" width="1" height="18" fill="#c0c0c0"/>
<rect x="756" y="550" width="1" height="18" fill="#c0c0c0"/>
<rect x="764" y="552" width="1" height="16" fill="#c0c0c0"/>
<rect x="772" y="552" width="1" height="16" fill="#c0c0c0"/>
<rect x="780" y="554" width="1" height="14" fill="#c0c0c0"/>
<rect x="788" y="557" width="1" height="11" fill="#c0c0c0"/>
<rect x="796" y="560" width="1" height="8" fill="#c0c0c0"/>
<rect x="804" y="564" width="1" height="4" fill="#c0c0c0"/>
<rect x="812" y="565" width="1" height="3" fill="#c0c0c0"/>
<rect x="820" y="565" width="1" height="3" fill="#c0c0c0"/>
<rect x="828" y="566" width="1" height="2" fill="#c0c0c0"/>
<rect x="836" y="566" width="1" height="2" fill="#c0c0c0"/>
<rect x="844" y="566" width="1" height="2" fill="#c0c0c0"/>
<rect x="852" y="565" width="1" height="3" fill="#c0c0c0"/>
<rect x="860" y="566" width="1" height="2" fill="#c0c0c0"/>
<rect x="868" y="567" width="1" height="1" fill="#c0c0c0"/>
<rect x="876" y="567" width="1" height="1" fill="#c0c0c0"/>
<rect x="884" y="567" width="1" height="1" fill="#c0c0c0"/>
<rect x="892" y="567" width="1" height="1" fill="#c0c0c0"/>
<rect x="900" y="567" width="1" height="1" fill="#c0c0c0"/>
<rect x="908" y="567" width="1" height="2" fill="#c0c0c0"/>
<rect x="916" y="567" width="1" height="1" fill="#c0c0c0"/>
<rect x="924" y="567" width="1" height="1" fill="#c0c0c0"/>
<rect x="932" y="567" width="1" height="1" fill="#c0c0c0"/>
<rect x="940" y="567" width="1" height="2" fill="#c0c0c0"/>
<rect x="948" y="567" width="1" height="7" fill="#c0c0c0"/>
<rect x="956" y="567" width="1" height="15" fill="#c0c0c0"/>
<rect x="964" y="567" width="1" height="19" fill="#c0c0c0"/>
<rect x="972" y="567" width="1" height="22" fill="#c0c0c0"/>
<rect x="980" y="567" width="1" height="23" fill="#c0c0c0"/>
<rect x="988" y="567" width="1" height="22" fill="#c0c0c0"/>
<rect x="996" y="567" width="1" height="23" fill="#c0c0c0"/>
<rect x="1004" y="567" width="1" height="24" fill="#c0c0c0"/>
<rect x="1012" y="567" width="1" height="25" fill="#c0c0c0"/>
<rect x="1020" y="567" width="1" height="26" fill="#c0c0c0"/>
<rect x="1028" y="567" width="1" height="25" fill="#c0c0c0"/>
<rect x="1036" y="567" width="1" height="25" fill="#c0c0c0"/>
<rect x="1044" y="567" width="1" height="26" fill="#c0c0c0"/>
<rect x="1052" y="567" width="1" height="27" fill="#c0c0c0"/>
<rect x="1060" y="567" width="1" height="23" fill="#c0c0c0"/>
<rect x="1068" y="567" width="1" height="21" fill="#c0c0c0"/>
<rect x="1076" y="567" width="1" height="20" fill="#c0c0c0"/>
<rect x="1084" y="567" width="1" height="16" fill="#c0c0c0"/>
<rect x="1092" y="567" width="1" height="8" fill="#c0c0c0"/>
<rect x="1100" y="567" width="1" height="2" fill="#c0c0c0"/>
<rect x="1108" y="566" width="1" height="2" fill="#c0c0c0"/>
<rect x="1116" y="562" width="1" height="6" fill="#c0c0c0"/>
<rect x="1124" y="559" width="1" height="9" fill="#c0c0c0"/>
<rect x="1132" y="556" width="1" height="12" fill="#c0c0c0"/>
<rect x="1140" y="552" width="1" height="16" fill="#c0c0c0"/>
<rect x="1148" y="550" width="1" height="18" fill="#c0c0c0"/>
<rect x="1156" y="550" width="1" height="18" fill="#c0c0c0"/>
<rect x="1164" y="550" width="1" height="18" fill="#c0c0c0"/>
<rect x="1172" y="550" width="1" height="18" fill="#c0c0c0"/>
<rect x="1180" y="549" width="1" height="19" fill="#c0c0c0"/>
<rect x="1188" y="546" width="1" height="22" fill="#c0c0c0"/>
<rect x="1196" y="544" width="1" height="24" fill="#c0c0c0"/>
<rect x="1204" y="542" width="1" height="26" fill="#c0c0c0"/>
<rect x="1212" y="540" width="1" height="28" fill="#c0c0c0"/>
<rect x="1220" y="540" width="1" height="28" fill="#c0c0c0"/>
<rect x="1228" y="540" width="1" height="28" fill="#c0c0c0"/>
<rect x="1236" y="542" width="1" height="26" fill="#c0c0c0"/>
<rect x="1244" y="543" width="1" height="25" fill="#c0c0c0"/>
<rect x="1252" y="544" width="1" height="24" fill="#c0c0c0"/>
<rect x="1260" y="545" width="1" height="23" fill="#c0c0c0"/>
<rect x="1268" y="546" width="1" height="22" fill="#c0c0c0"/>
<rect x="1276" y="546" width="1" height="22" fill="#c0c0c0"/>
<rect x="1284" y="548" width="1" height="20" fill="#c0c0c0"/>
<rect x="1292" y="548" width="1" height="20" fill="#c0c0c0"/>
<rect x="1300" y="548" width="1" height="20" fill="#c0c0c0"/>
<rect x="1308" y="550" width="1" height="18" fill="#c0c0c0"/>
<rect x="1316" y="550" width="1" height="18" fill="#c0c0c0"/>
<path d="M29 567h2v1h-2zM385 567h2v1h-2zM391 567h3v1h-3zM397 567h3v1h-3zM403 567h3v1h-3zM920 567h2v1h-2zM925 567h3v1h-3zM931 567h3v1h-3zM937 567h3v1h-3zM67 551h2v1h-2zM176 551h2v1h-2zM795 551h3v1h-3zM1181 551h2v1h-2zM733 552h2v1h-2zM802 552h3v1h-3zM1175 552h3v1h-3zM264 562h2v1h-2zM269 562h2v1h-2zM439 562h3v1h-3zM445 562h3v1h-3zM451 562h3v1h-3zM457 562h3v1h-3zM463 562h3v1h-3zM469 562h3v1h-3zM852 562h3v1h-3zM114 542h3v1h-3zM120 542h3v1h-3zM127 542h3v1h-3zM133 542h3v1h-3zM1231 542h3v1h-3zM1237 542h3v1h-3zM1243 542h3v1h-3zM1279 542h3v1h-3zM90 545h3v1h-3zM152 545h3v1h-3zM1310 545h3v1h-3zM276 563h3v1h-3zM282 563h3v1h-3zM288 563h3v1h-3zM294 563h3v1h-3zM300 563h3v1h-3zM306 563h3v1h-3zM312 563h3v1h-3zM318 563h3v1h-3zM324 563h3v1h-3zM330 563h3v1h-3zM336 563h3v1h-3zM433 563h3v1h-3zM579 563h3v1h-3zM702 563h2v1h-2zM858 563h3v1h-3zM864 563h3v1h-3zM1146 563h2v1h-2zM215 557h2v1h-2zM518 557h3v1h-3zM524 557h3v1h-3zM548 557h3v1h-3zM554 557h3v1h-3zM827 557h2v1h-2zM226 559h3v1h-3zM232 559h3v1h-3zM501 559h2v1h-2zM506 559h2v1h-2zM566 559h3v1h-3zM834 559h2v1h-2zM61 553h2v1h-2zM184 553h2v1h-2zM360 565h3v1h-3zM366 565h3v1h-3zM415 565h3v1h-3zM696 565h2v1h-2zM884 565h2v1h-2zM889 565h3v1h-3zM895 565h3v1h-3zM47 558h2v1h-2zM220 558h3v1h-3zM512 558h3v1h-3zM560 558h3v1h-3zM714 558h2v1h-2zM1157 558h2v1h-2zM36 564h2v1h-2zM343 564h2v1h-2zM348 564h3v1h-3zM354 564h3v1h-3zM422 564h2v1h-2zM427 564h3v1h-3zM870 564h3v1h-3zM876 564h3v1h-3zM372 566h3v1h-3zM378 566h3v1h-3zM409 566h3v1h-3zM586 566h2v1h-2zM901 566h3v1h-3zM907 566h3v1h-3zM913 566h3v1h-3zM1140 566h2v1h-2zM96 544h3v1h-3zM146 544h2v1h-2zM1212 544h3v1h-3zM1218 544h2v1h-2zM1297 544h2v1h-2zM1304 544h3v1h-3zM84 546h2v1h-2zM158 546h2v1h-2zM1206 546h2v1h-2zM53 555h3v1h-3zM195 555h3v1h-3zM814 555h3v1h-3zM1164 555h2v1h-2zM72 550h2v1h-2zM171 550h2v1h-2zM739 550h3v1h-3zM784 550h2v1h-2zM789 550h3v1h-3zM1004 584h2v1h-2zM1047 592h2v1h-2zM1054 592h3v1h-3zM1060 592h3v1h-3zM1066 592h3v1h-3zM252 561h2v1h-2zM257 561h3v1h-3zM475 561h3v1h-3zM481 561h3v1h-3zM573 561h3v1h-3zM845 561h3v1h-3zM640 582h3v1h-3zM646 582h3v1h-3zM652 582h2v1h-2zM201 556h3v1h-3zM207 556h3v1h-3zM530 556h3v1h-3zM536 556h3v1h-3zM542 556h3v1h-3zM720 556h2v1h-2zM820 556h3v1h-3zM1016 588h3v1h-3zM1091 588h2v1h-2zM17 573h2v1h-2zM678 573h2v1h-2zM238 560h3v1h-3zM245 560h3v1h-3zM489 560h2v1h-2zM494 560h3v1h-3zM708 560h3v1h-3zM839 560h3v1h-3zM1152 560h2v1h-2zM622 580h2v1h-2zM658 580h3v1h-3zM992 580h2v1h-2zM189 554h3v1h-3zM727 554h2v1h-2zM809 554h2v1h-2zM1169 554h2v1h-2zM1035 591h3v1h-3zM1041 591h3v1h-3zM1072 591h3v1h-3zM745 549h3v1h-3zM752 549h3v1h-3zM778 549h2v1h-2zM1188 549h2v1h-2zM1249 541h3v1h-3zM1255 541h3v1h-3zM1261 541h3v1h-3zM1267 541h3v1h-3zM1273 541h3v1h-3zM610 577h2v1h-2zM980 577h3v1h-3zM4 578h2v1h-2zM615 578h2v1h-2zM666 578h2v1h-2zM1116 578h2v1h-2zM78 548h2v1h-2zM164 548h3v1h-3zM758 548h3v1h-3zM764 548h3v1h-3zM770 548h3v1h-3zM1194 548h2v1h-2zM961 572h3v1h-3zM1128 572h2v1h-2zM591 568h2v1h-2zM690 568h2v1h-2zM943 568h3v1h-3zM1010 586h3v1h-3zM1097 586h2v1h-2zM1085 589h3v1h-3zM102 543h3v1h-3zM108 543h2v1h-2zM139 543h3v1h-3zM1224 543h3v1h-3zM1285 543h3v1h-3zM1291 543h3v1h-3zM11 575h2v1h-2zM1122 575h2v1h-2zM604 574h2v1h-2zM968 574h2v1h-2zM987 579h2v1h-2zM627 581h3v1h-3zM633 581h2v1h-2zM1110 581h2v1h-2zM1201 547h2v1h-2zM597 571h2v1h-2zM683 571h2v1h-2zM956 571h2v1h-2zM23 570h2v1h-2zM999 583h2v1h-2zM1104 583h2v1h-2zM671 576h2v1h-2zM975 576h2v1h-2zM949 569h3v1h-3zM1134 569h2v1h-2zM1029 590h2v1h-2zM508 558h1v1h-1zM783 549h1v1h-1zM973 575h1v1h-1zM1022 589h1v1h-1zM808 553h1v1h-1zM986 578h1v1h-1zM1115 579h1v1h-1zM635 582h1v1h-1zM967 573h1v1h-1zM1121 576h1v1h-1zM43 560h1v1h-1zM704 562h1v1h-1zM35 565h1v1h-1zM1023 590h1v1h-1zM1093 587h1v1h-1zM1300 544h1v1h-1zM994 581h1v1h-1zM665 579h1v1h-1zM384 566h1v1h-1zM593 569h1v1h-1zM585 565h1v1h-1zM178 552h1v1h-1zM1127 573h1v1h-1zM86 545h1v1h-1zM1006 585h1v1h-1zM500 560h1v1h-1zM1133 570h1v1h-1zM271 563h1v1h-1zM599 572h1v1h-1zM80 547h1v1h-1zM654 581h1v1h-1zM1081 590h1v1h-1zM488 561h1v1h-1zM251 560h1v1h-1zM689 569h1v1h-1zM1103 584h1v1h-1zM1080 591h1v1h-1zM695 566h1v1h-1zM263 561h1v1h-1zM1159 557h1v1h-1zM1220 543h1v1h-1zM1031 591h1v1h-1zM883 564h1v1h-1zM6 577h1v1h-1zM42 561h1v1h-1zM1200 548h1v1h-1zM49 557h1v1h-1zM1163 556h1v1h-1zM1187 550h1v1h-1zM677 574h1v1h-1zM1208 545h1v1h-1zM609 576h1v1h-1zM1078 591h1v1h-1zM1171 553h1v1h-1zM833 558h1v1h-1zM16 574h1v1h-1zM1139 567h1v1h-1zM213 557h1v1h-1zM22 571h1v1h-1zM1145 564h1v1h-1zM1050 592h1v1h-1zM1099 585h1v1h-1zM1025 590h1v1h-1zM183 552h1v1h-1zM919 566h1v1h-1zM621 579h1v1h-1zM342 563h1v1h-1zM1193 549h1v1h-1zM722 555h1v1h-1zM145 543h1v1h-1zM1183 550h1v1h-1zM66 552h1v1h-1zM28 568h1v1h-1zM1151 561h1v1h-1zM41 562h1v1h-1zM603 573h1v1h-1zM955 570h1v1h-1zM110 542h1v1h-1zM1109 582h1v1h-1zM777 548h1v1h-1zM74 549h1v1h-1zM829 558h1v1h-1zM735 551h1v1h-1zM729 553h1v1h-1zM421 565h1v1h-1zM10 576h1v1h-1zM673 575h1v1h-1zM998 582h1v1h-1zM617 579h1v1h-1zM170 549h1v1h-1zM685 570h1v1h-1zM716 557h1v1h-1zM160 547h1v1h-1zM60 554h1v1h-1z" fill="#ff0000"/>
</g>
<g clip-path="url(#cr)" shape-rendering="crispEdges">
<line x1="4" y1="637.5" x2="1667" y2="637.5" stroke="#c0c0c0" stroke-dasharray="3 3"/>
<line x1="4" y1="688.5" x2="1667" y2="688.5" stroke="#c0c0c0" stroke-dasharray="3 3"/>
<path d="M282 660h2v1h-2zM289 660h13v1h-13zM424 660h14v1h-14zM818 660h4v1h-4zM840 660h2v1h-2zM124 664h3v1h-3zM135 664h4v1h-4zM200 664h2v1h-2zM254 664h9v1h-9zM324 664h12v1h-12zM524 664h2v1h-2zM880 664h2v1h-2zM927 664h4v1h-4zM934 664h4v1h-4zM54 647h3v1h-3zM102 647h2v1h-2zM468 647h12v1h-12zM487 647h4v1h-4zM502 647h4v1h-4zM1099 647h12v1h-12zM1150 647h4v1h-4zM1176 647h5v1h-5zM1244 647h5v1h-5zM1254 647h2v1h-2zM1292 647h5v1h-5zM1301 647h2v1h-2zM1195 638h6v1h-6zM1205 638h2v1h-2zM4 652h2v1h-2zM163 652h2v1h-2zM395 652h10v1h-10zM777 652h4v1h-4zM1279 652h2v1h-2zM20 639h9v1h-9zM81 639h12v1h-12zM1207 639h2v1h-2zM144 666h5v1h-5zM265 666h2v1h-2zM340 666h3v1h-3zM555 666h2v1h-2zM884 666h2v1h-2zM899 666h5v1h-5zM648 662h3v1h-3zM811 662h2v1h-2zM824 662h3v1h-3zM832 662h5v1h-5zM872 662h6v1h-6zM183 658h2v1h-2zM191 658h2v1h-2zM306 658h6v1h-6zM440 658h3v1h-3zM639 658h2v1h-2zM845 658h4v1h-4zM917 658h2v1h-2zM354 673h2v1h-2zM357 673h3v1h-3zM1050 673h4v1h-4zM224 655h3v1h-3zM238 655h2v1h-2zM376 655h7v1h-7zM620 655h3v1h-3zM767 655h2v1h-2zM580 688h4v1h-4zM593 688h2v1h-2zM600 688h5v1h-5zM68 641h5v1h-5zM94 641h2v1h-2zM707 641h2v1h-2zM1211 641h18v1h-18zM996 678h5v1h-5zM1015 678h4v1h-4zM1039 678h2v1h-2zM127 663h8v1h-8zM651 663h2v1h-2zM809 663h2v1h-2zM827 663h5v1h-5zM868 663h4v1h-4zM878 663h2v1h-2zM924 663h3v1h-3zM938 663h3v1h-3zM575 685h2v1h-2zM568 681h2v1h-2zM968 681h3v1h-3zM977 681h4v1h-4zM10 649h3v1h-3zM106 649h2v1h-2zM110 649h4v1h-4zM168 649h2v1h-2zM408 649h2v1h-2zM720 649h3v1h-3zM726 649h3v1h-3zM752 649h3v1h-3zM1115 649h10v1h-10zM1158 649h2v1h-2zM1169 649h2v1h-2zM1259 649h6v1h-6zM1270 649h4v1h-4zM1094 645h3v1h-3zM1128 645h2v1h-2zM1144 645h3v1h-3zM345 668h3v1h-3zM458 668h3v1h-3zM529 668h2v1h-2zM549 668h3v1h-3zM798 668h4v1h-4zM861 668h2v1h-2zM890 668h5v1h-5zM1067 668h10v1h-10zM181 659h2v1h-2zM193 659h2v1h-2zM302 659h4v1h-4zM318 659h2v1h-2zM420 659h4v1h-4zM438 659h2v1h-2zM641 659h2v1h-2zM842 659h3v1h-3zM204 667h2v1h-2zM267 667h2v1h-2zM343 667h2v1h-2zM456 667h2v1h-2zM552 667h3v1h-3zM802 667h3v1h-3zM886 667h4v1h-4zM895 667h4v1h-4zM904 667h5v1h-5zM156 656h2v1h-2zM187 656h3v1h-3zM221 656h3v1h-3zM240 656h3v1h-3zM372 656h4v1h-4zM623 656h4v1h-4zM631 656h7v1h-7zM659 656h2v1h-2zM765 656h2v1h-2zM73 640h8v1h-8zM1209 640h2v1h-2zM207 669h2v1h-2zM348 669h2v1h-2zM543 669h6v1h-6zM792 669h6v1h-6zM1064 669h3v1h-3zM36 648h18v1h-18zM104 648h2v1h-2zM114 648h3v1h-3zM170 648h2v1h-2zM410 648h2v1h-2zM491 648h11v1h-11zM723 648h3v1h-3zM755 648h2v1h-2zM1111 648h4v1h-4zM1154 648h4v1h-4zM1171 648h5v1h-5zM1242 648h2v1h-2zM1256 648h3v1h-3zM1265 648h5v1h-5zM1303 648h2v1h-2zM196 661h2v1h-2zM284 661h5v1h-5zM448 661h2v1h-2zM644 661h4v1h-4zM813 661h5v1h-5zM822 661h2v1h-2zM837 661h3v1h-3zM921 661h2v1h-2zM8 650h2v1h-2zM108 650h2v1h-2zM166 650h2v1h-2zM717 650h3v1h-3zM729 650h3v1h-3zM735 650h11v1h-11zM749 650h3v1h-3zM1160 650h3v1h-3zM1166 650h3v1h-3zM1274 650h3v1h-3zM1306 650h2v1h-2zM360 672h2v1h-2zM1054 672h4v1h-4zM64 643h2v1h-2zM669 643h5v1h-5zM686 643h4v1h-4zM697 643h6v1h-6zM1136 643h6v1h-6zM57 646h4v1h-4zM100 646h2v1h-2zM480 646h7v1h-7zM506 646h3v1h-3zM1097 646h2v1h-2zM1147 646h3v1h-3zM1249 646h5v1h-5zM1297 646h4v1h-4zM1022 676h3v1h-3zM1030 676h2v1h-2zM1042 676h2v1h-2zM1025 675h2v1h-2zM1044 675h2v1h-2zM139 665h5v1h-5zM252 665h2v1h-2zM263 665h2v1h-2zM336 665h4v1h-4zM453 665h2v1h-2zM806 665h2v1h-2zM865 665h2v1h-2zM882 665h2v1h-2zM931 665h3v1h-3zM6 651h2v1h-2zM405 651h2v1h-2zM732 651h3v1h-3zM746 651h3v1h-3zM1163 651h3v1h-3zM1238 651h2v1h-2zM1277 651h2v1h-2zM1308 651h9v1h-9zM66 642h2v1h-2zM674 642h12v1h-12zM703 642h4v1h-4zM1132 642h4v1h-4zM159 654h2v1h-2zM227 654h11v1h-11zM383 654h7v1h-7zM769 654h2v1h-2zM1282 654h2v1h-2zM161 653h2v1h-2zM390 653h5v1h-5zM771 653h6v1h-6zM62 644h2v1h-2zM690 644h7v1h-7zM1092 644h2v1h-2zM1142 644h2v1h-2zM532 670h11v1h-11zM788 670h4v1h-4zM1061 670h3v1h-3zM572 683h2v1h-2zM964 683h2v1h-2zM566 680h2v1h-2zM971 680h6v1h-6zM1019 677h3v1h-3zM185 657h2v1h-2zM243 657h2v1h-2zM278 657h2v1h-2zM312 657h5v1h-5zM443 657h2v1h-2zM627 657h4v1h-4zM849 657h4v1h-4zM595 687h5v1h-5zM564 679h2v1h-2zM1001 679h14v1h-14zM1034 679h2v1h-2zM1037 679h2v1h-2zM1191 637h4v1h-4zM1201 637h4v1h-4zM570 682h2v1h-2zM966 682h2v1h-2zM1188 636h3v1h-3zM210 671h2v1h-2zM351 671h2v1h-2zM362 671h3v1h-3zM1058 671h3v1h-3zM584 689h3v1h-3zM590 689h3v1h-3zM953 691h4v1h-4zM577 686h2v1h-2zM587 690h3v1h-3zM948 690h5v1h-5zM1027 674h2v1h-2zM1046 674h4v1h-4zM513 652h1v1h-1zM353 672h1v1h-1zM1033 678h1v1h-1zM122 659h1v2h-1zM1079 663h1v2h-1zM610 678h1v2h-1zM1235 651h1v2h-1zM786 665h1v2h-1zM912 662h1v1h-1zM118 651h1v2h-1zM15 645h1v1h-1zM322 662h1v1h-1zM175 652h1v1h-1zM1284 655h1v1h-1zM1182 644h1v1h-1zM615 667h1v2h-1zM1041 677h1v1h-1zM805 666h1v1h-1zM371 657h1v2h-1zM987 669h1v2h-1zM463 659h1v2h-1zM463 662h1v1h-1zM653 662h1v1h-1zM1032 677h1v1h-1zM945 679h1v3h-1zM151 662h1v1h-1zM121 657h1v2h-1zM561 673h1v1h-1zM561 675h1v1h-1zM531 669h1v1h-1zM174 650h1v2h-1zM944 675h1v4h-1zM367 664h1v2h-1zM991 671h1v1h-1zM983 676h1v1h-1zM178 656h1v2h-1zM451 663h1v1h-1zM462 663h1v3h-1zM1185 640h1v1h-1zM414 650h1v1h-1zM466 651h1v3h-1zM656 659h1v1h-1zM1029 675h1v1h-1zM527 666h1v1h-1zM614 669h1v3h-1zM250 663h1v1h-1zM30 641h1v1h-1zM606 684h1v2h-1zM618 659h1v3h-1zM512 650h1v2h-1zM963 684h1v1h-1zM124 663h1v1h-1zM941 665h1v4h-1zM1082 659h1v1h-1zM516 656h1v1h-1zM273 659h1v2h-1zM120 655h1v2h-1zM915 658h1v1h-1zM667 645h1v2h-1zM413 648h1v2h-1zM990 670h1v1h-1zM447 660h1v1h-1zM710 643h1v1h-1zM1181 645h1v2h-1zM1086 652h1v1h-1zM417 654h1v2h-1zM249 662h1v1h-1zM1089 648h1v1h-1zM177 655h1v1h-1zM994 676h1v1h-1zM910 664h1v2h-1zM523 663h1v1h-1zM1291 648h1v1h-1zM526 665h1v1h-1zM663 651h1v2h-1zM947 685h1v4h-1zM853 658h1v2h-1zM940 664h1v1h-1zM154 658h1v2h-1zM709 642h1v1h-1zM123 661h1v2h-1zM218 660h1v2h-1zM158 655h1v1h-1zM993 675h1v1h-1zM857 664h1v2h-1zM1184 641h1v2h-1zM713 648h1v1h-1zM785 663h1v2h-1zM788 669h1v1h-1zM412 647h1v1h-1zM117 649h1v2h-1zM986 671h1v2h-1zM14 646h1v1h-1zM370 659h1v2h-1zM613 672h1v2h-1zM173 648h1v2h-1zM416 653h1v1h-1zM29 640h1v1h-1zM280 658h1v1h-1zM366 666h1v2h-1zM914 659h1v2h-1zM609 680h1v1h-1zM203 666h1v1h-1zM758 650h1v1h-1zM515 654h1v1h-1zM1085 653h1v2h-1zM1286 653h1v1h-1zM992 672h1v2h-1zM909 666h1v1h-1zM712 645h1v2h-1zM958 689h1v1h-1zM784 660h1v3h-1zM522 662h1v1h-1zM271 662h1v2h-1zM605 686h1v2h-1zM419 657h1v2h-1zM180 660h1v1h-1zM943 672h1v3h-1zM97 643h1v1h-1zM1237 652h1v1h-1zM1081 660h1v2h-1zM150 663h1v2h-1zM202 665h1v1h-1zM153 660h1v1h-1zM217 662h1v2h-1zM666 647h1v1h-1zM867 664h1v1h-1zM616 664h1v3h-1zM514 653h1v1h-1zM1088 649h1v2h-1zM1091 645h1v2h-1zM369 661h1v2h-1zM213 670h1v2h-1zM787 667h1v2h-1zM1229 642h1v2h-1zM1187 637h1v2h-1zM119 653h1v2h-1zM17 642h1v1h-1zM245 658h1v1h-1zM415 651h1v2h-1zM655 660h1v1h-1zM176 653h1v2h-1zM198 662h1v1h-1zM179 658h1v2h-1zM942 669h1v3h-1zM365 668h1v2h-1zM199 663h1v1h-1zM608 681h1v2h-1zM620 656h1v1h-1zM962 685h1v1h-1zM32 643h1v2h-1zM350 670h1v1h-1zM1125 648h1v1h-1zM528 667h1v1h-1zM1084 656h1v1h-1zM855 661h1v2h-1zM946 682h1v3h-1zM465 654h1v3h-1zM612 674h1v2h-1zM270 664h1v1h-1zM856 663h1v1h-1zM923 662h1v1h-1zM859 667h1v2h-1zM711 644h1v1h-1zM93 640h1v1h-1zM574 684h1v1h-1zM96 642h1v1h-1zM995 677h1v1h-1zM1281 653h1v1h-1zM715 650h1v1h-1zM468 648h1v1h-1zM662 653h1v1h-1zM665 648h1v2h-1zM320 660h1v1h-1zM783 658h1v2h-1zM281 659h1v1h-1zM251 664h1v1h-1zM1288 651h1v1h-1zM31 642h1v1h-1zM920 660h1v1h-1zM1183 643h1v1h-1zM16 643h1v2h-1zM854 660h1v1h-1zM517 657h1v1h-1zM216 664h1v2h-1zM957 690h1v1h-1zM407 650h1v1h-1zM418 656h1v1h-1zM190 657h1v1h-1zM212 672h1v1h-1zM916 657h1v1h-1zM611 676h1v2h-1zM269 665h1v2h-1zM919 659h1v1h-1zM19 640h1v1h-1zM960 687h1v1h-1zM1087 651h1v1h-1zM1285 654h1v1h-1zM657 658h1v1h-1zM220 657h1v1h-1zM1186 639h1v1h-1zM858 666h1v1h-1zM714 649h1v1h-1zM661 654h1v2h-1zM619 657h1v2h-1zM760 652h1v1h-1zM277 656h1v1h-1zM1083 657h1v2h-1zM152 661h1v1h-1zM782 656h1v2h-1zM1078 665h1v1h-1zM368 663h1v1h-1zM509 647h1v1h-1zM215 666h1v2h-1zM982 677h1v2h-1zM759 651h1v1h-1zM467 649h1v2h-1zM911 663h1v1h-1zM808 664h1v1h-1zM356 674h1v1h-1zM607 683h1v1h-1zM246 659h1v1h-1zM1127 646h1v1h-1zM98 644h1v1h-1zM1241 649h1v1h-1zM668 644h1v1h-1zM948 689h1v1h-1zM33 645h1v1h-1zM1090 647h1v1h-1zM638 657h1v1h-1zM34 646h1v1h-1zM557 667h1v2h-1zM276 655h1v1h-1zM455 666h1v1h-1zM1230 644h1v1h-1zM762 655h1v1h-1zM519 659h1v1h-1zM1077 666h1v2h-1zM155 657h1v1h-1zM1234 650h1v1h-1zM1290 649h1v1h-1zM763 656h1v1h-1zM1131 643h1v1h-1zM1036 680h1v1h-1zM219 658h1v2h-1zM1287 652h1v1h-1zM781 654h1v2h-1zM579 687h1v1h-1zM165 651h1v1h-1zM18 641h1v1h-1zM959 688h1v1h-1zM272 661h1v1h-1zM461 666h1v2h-1zM985 673h1v1h-1zM860 669h1v1h-1zM518 658h1v1h-1zM864 666h1v1h-1zM664 650h1v1h-1zM716 651h1v1h-1zM1233 648h1v1h-1zM214 668h1v2h-1zM981 679h1v2h-1zM321 661h1v1h-1zM450 662h1v1h-1zM275 656h1v2h-1zM563 677h1v2h-1zM195 660h1v1h-1zM511 649h1v1h-1zM761 653h1v1h-1zM617 662h1v2h-1zM1080 662h1v1h-1zM317 658h1v1h-1zM149 665h1v1h-1zM989 669h1v1h-1zM913 661h1v1h-1zM780 653h1v1h-1zM248 661h1v1h-1zM13 647h1v1h-1zM35 647h1v1h-1zM559 670h1v2h-1zM988 668h1v1h-1zM445 658h1v1h-1zM654 661h1v1h-1zM1232 646h1v2h-1zM1126 647h1v1h-1zM560 672h1v1h-1zM1305 649h1v1h-1zM446 659h1v1h-1zM206 668h1v1h-1zM1236 653h1v1h-1zM1130 644h1v1h-1zM209 670h1v1h-1zM464 657h1v2h-1zM984 674h1v2h-1zM99 645h1v1h-1zM172 647h1v1h-1zM61 645h1v1h-1zM510 648h1v1h-1zM562 676h1v1h-1zM1289 650h1v1h-1zM558 669h1v1h-1zM757 649h1v1h-1zM1231 645h1v1h-1zM520 660h1v1h-1zM643 660h1v1h-1zM247 660h1v1h-1zM1240 650h1v1h-1zM961 686h1v1h-1zM764 657h1v1h-1zM521 661h1v1h-1zM658 657h1v1h-1zM460 669h1v1h-1zM323 663h1v1h-1zM274 658h1v1h-1zM452 664h1v1h-1zM863 667h1v1h-1z" fill="#1e90ff"/>
</g>
</svg>
<div class="ax" style="left:1674px;top:67px;">64.760</div>
<div class="ax" style="left:1674px;top:116px;">64.270</div>
<div class="ax" style="left:1674px;top:165px;">63.780</div>
<div class="ax" style="left:1674px;top:214px;">63.290</div>
<div class="ax" style="left:1674px;top:263px;">62.800</div>
<div class="ax" style="left:1674px;top:312px;">62.305</div>
<div class="ax" style="left:1674px;top:361px;">61.815</div>
<div class="ax" style="left:1674px;top:410px;">61.325</div>
<div class="ax" style="left:1674px;top:459px;">60.830</div>
<div class="ax" style="left:1674px;top:508px;">60.345</div>
<div class="ax" style="left:1671px;top:538px;">0.6255</div>
<div class="ax" style="left:1671px;top:561px;">0.00</div>
<div class="ax" style="left:1671px;top:582px;">-0.5705</div>
<div class="ax" style="left:1671px;top:601px;">100</div>
<div class="ax" style="left:1668.7px;top:631px;">70</div>
<div class="ax" style="left:1668.7px;top:682px;">30</div>
<div class="ax" style="left:1671px;top:712px;">0</div>
<div class="ax" style="left:3px;top:731px;">4 Nov 2019</div>
<div class="ax" style="left:99px;top:731px;">6 Nov 01:00</div>
<div class="ax" style="left:195px;top:731px;">8 Nov 01:00</div>
<div class="ax" style="left:291px;top:731px;">11 Nov 20:00</div>
<div class="ax" style="left:387px;top:731px;">13 Nov 21:00</div>
<div class="ax" style="left:483px;top:731px;">15 Nov 21:00</div>
<div class="ax" style="left:579px;top:731px;">19 Nov 17:00</div>
<div class="ax" style="left:675px;top:731px;">21 Nov 17:00</div>
<div class="ax" style="left:771px;top:731px;">25 Nov 12:00</div>
<div class="ax" style="left:867px;top:731px;">27 Nov 17:00</div>
<div class="ax" style="left:963px;top:731px;">1 Dec 23:00</div>
<div class="ax" style="left:1059px;top:731px;">3 Dec 21:00</div>
<div class="ax" style="left:1155px;top:731px;">5 Dec 21:00</div>
<div class="ax" style="left:1251px;top:731px;">9 Dec 16:00</div>
<div class="ax" style="left:8px;top:540px;letter-spacing:-0.07px">MACD(12,26,9) 0.3685 0.4353</div>
<div class="ax" style="left:8px;top:603px;">RSI(14) 58.9836</div>
<div class="ax" style="left:22px;top:44px;"><span style="letter-spacing:-0.8px">UKOil-,H4</span></div>
<div class="ax" style="left:81.0px;top:44px;">64.160</div>
<div class="ax" style="left:123.75px;top:44px;">64.160</div>
<div class="ax" style="left:166.5px;top:44px;">64.160</div>
<div class="ax" style="left:209.25px;top:44px;">64.160</div>
<div class="abs" style="left:5px;top:60px;width:287px;height:82px;background:#fff;"></div>
<div class="abs" style="left:7px;top:63px;width:284px;height:77px;">
<svg width="284" height="77" viewBox="7 63 284 77" style="left:0;top:0" shape-rendering="crispEdges">
<defs><linearGradient id="pg2" gradientUnits="userSpaceOnUse" x1="0" y1="63" x2="0" y2="139"><stop offset="0" stop-color="#fa5050"/><stop offset="0.33" stop-color="#e03030"/><stop offset="0.66" stop-color="#c81818"/><stop offset="1" stop-color="#ae0202"/></linearGradient><linearGradient id="bg" x1="0" y1="0" x2="0" y2="1"><stop offset="0" stop-color="#f2f2f2"/><stop offset="0.45" stop-color="#e4e4e4"/><stop offset="0.5" stop-color="#d4d4d4"/><stop offset="1" stop-color="#c8c8c8"/></linearGradient></defs>
<rect x="75" y="63" width="147" height="27" fill="#fff"/>
<rect x="148" y="90" width="2" height="49" fill="#fff"/>
<path d="M7 63 H75 V90 H148 V139 H7 Z" fill="url(#pg2)" stroke="none"/>
<path d="M222 63 H290 V139 H150 V90 H222 Z" fill="url(#pg2)" stroke="none"/>
<path d="M7.5 63.5 H74.5 V90.5 H147.5 V138.5 H7.5 Z" fill="none" stroke="#c00000" stroke-opacity="0.8"/>
<path d="M222.5 63.5 H289.5 V138.5 H150.5 V90.5 H222.5 Z" fill="none" stroke="#c00000" stroke-opacity="0.8"/>
<rect x="11" y="89" width="60" height="1" fill="#9c0a0a"/><rect x="11" y="90" width="60" height="1" fill="#f06a6a"/>
<rect x="226" y="89" width="60" height="1" fill="#9c0a0a"/><rect x="226" y="90" width="60" height="1" fill="#f06a6a"/>
<rect x="77.5" y="63.5" width="142" height="24" fill="#fff" stroke="#abadb3"/>
<rect x="78" y="64" width="22" height="23" fill="url(#bg)"/><rect x="100" y="64" width="1" height="23" fill="#b4b6bc"/>
<rect x="196" y="64" width="23" height="23" fill="url(#bg)"/><rect x="195" y="64" width="1" height="23" fill="#b4b6bc"/>
<polygon points="85.5,74 93.5,74 89.5,78.5" fill="#3c5cc4" shape-rendering="auto"/>
<polygon points="203.5,77.5 211.5,77.5 207.5,73" fill="#3c5cc4" shape-rendering="auto"/>
</svg>
</div>
<div class="abs pt" style="left:7px;top:63px;width:68px;height:27px;font-size:16px;line-height:27px;text-align:center;color:#fff;"><span style="display:inline-block;transform:scaleX(0.86);position:relative;top:-0.5px">SELL</span></div>
<div class="abs pt" style="left:222px;top:63px;width:68px;height:27px;font-size:16px;line-height:27px;text-align:center;color:#fff;"><span style="display:inline-block;transform:scaleX(0.86);position:relative;top:-0.5px">BUY</span></div>
<div class="abs" style="left:101px;top:64px;width:91px;height:23px;font-size:15.5px;line-height:23px;text-align:right;color:#000;">1.00</div>
<div class="abs" style="left:46.5px;top:113px;font-size:14.5px;font-weight:bold;line-height:18px;color:#fff;">64</div>
<div class="abs" style="left:68px;top:91.5px;font-size:40.5px;line-height:44px;color:#fff;letter-spacing:-1.5px;">16</div>
<div class="abs" style="left:117.5px;top:95.5px;font-size:14.5px;font-weight:bold;line-height:18px;color:#fff;">0</div>
<div class="abs" style="left:188.5px;top:113px;font-size:14.5px;font-weight:bold;line-height:18px;color:#fff;">64</div>
<div class="abs" style="left:211px;top:91.5px;font-size:40.5px;line-height:44px;color:#fff;letter-spacing:-1.5px;">23</div>
<div class="abs" style="left:259.5px;top:95.5px;font-size:14.5px;font-weight:bold;line-height:18px;color:#fff;">0</div>
<div class="abs" style="left:1669px;top:126px;width:49px;height:14px;background:#000;"></div>
<div class="ax" style="left:1674px;top:127px;color:#fff;">64.160</div>
<div class="abs" style="left:1669px;top:134px;width:49px;height:14px;background:#00ff7f;"></div>
<div class="ax" style="left:1674px;top:135px;color:#fff;">64.088</div>
<div class="ax" style="left:1669px;top:343px;width:49px;height:14px;background:#0000ff;color:#fff;"><span style="padding-left:5px;position:relative;top:0px">62.000</span></div>
<div class="abs" id="cn" style="left:1204px;top:412px;font-size:54px;line-height:72px;color:#ff2010;white-space:nowrap;transform-origin:0 0;transform:scaleX(0.9389);">多空转折点<span style="position:relative;top:-3px">64</span></div>
<svg width="12" height="8" viewBox="0 0 12 8" style="left:7px;top:46px"><polygon points="0,6.5 9,6.5 4.5,1.5" fill="#000"/></svg>
</body></html>
